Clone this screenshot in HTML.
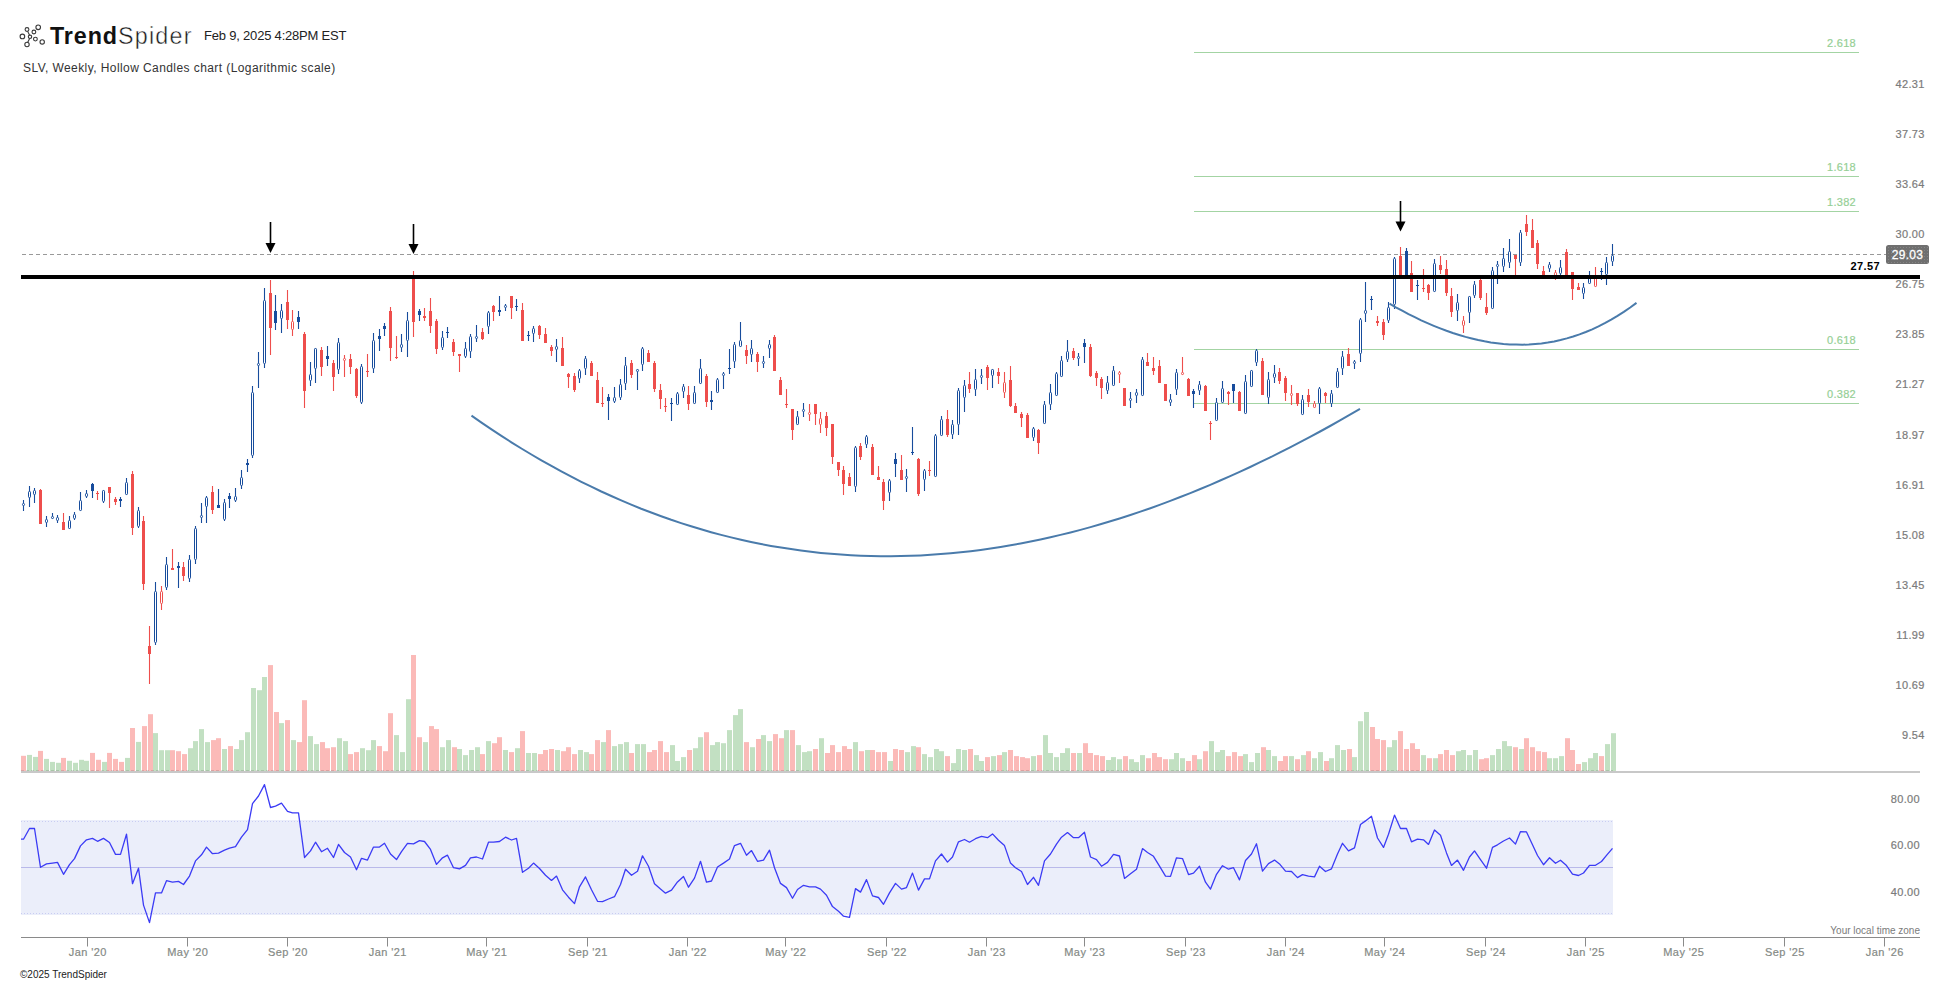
<!DOCTYPE html>
<html><head><meta charset="utf-8">
<style>
html,body{margin:0;padding:0;background:#fff;width:1950px;height:983px;overflow:hidden;}
body{position:relative;font-family:"Liberation Sans",sans-serif;}
svg{position:absolute;left:0;top:0;}
.t{position:absolute;white-space:nowrap;line-height:1;}
</style></head><body>
<svg width="1950" height="983" viewBox="0 0 1950 983" font-family="Liberation Sans">
<defs>
<pattern id="dots" width="3" height="3" patternUnits="userSpaceOnUse"><rect width="3" height="3" fill="#6f6f6f"/><rect x="1" y="1" width="1" height="1" fill="#858585"/></pattern>
</defs>
<!-- logo -->
<g fill="none" stroke="#3a3a3a" stroke-width="1.1">
<line x1="27.6" y1="31.2" x2="29.6" y2="35.2"/>
<line x1="29.6" y1="38.4" x2="27.6" y2="42.5"/>
<circle cx="27" cy="29.5" r="1.9"/>
<circle cx="38.2" cy="27.3" r="2.3"/>
<circle cx="33.9" cy="32" r="1.9"/>
<circle cx="22.4" cy="36.4" r="2.3"/>
<circle cx="30" cy="36.8" r="1.7"/>
<circle cx="35.4" cy="39.1" r="1.9"/>
<circle cx="42.2" cy="41.9" r="2.2"/>
<circle cx="27" cy="44.5" r="2.2"/>
</g>
<!-- volume -->
<rect x="21" y="755.8" width="5" height="15.2" fill="#fbbab8"/>
<rect x="27" y="754.9" width="5" height="16.1" fill="#c2e0c2"/>
<rect x="33" y="756.9" width="5" height="14.1" fill="#c2e0c2"/>
<rect x="38" y="750.9" width="5" height="20.1" fill="#fbbab8"/>
<rect x="44" y="758.9" width="5" height="12.1" fill="#c2e0c2"/>
<rect x="50" y="761.9" width="5" height="9.1" fill="#c2e0c2"/>
<rect x="56" y="762.8" width="5" height="8.2" fill="#c2e0c2"/>
<rect x="61" y="757.9" width="5" height="13.1" fill="#fbbab8"/>
<rect x="67" y="760.8" width="5" height="10.2" fill="#c2e0c2"/>
<rect x="73" y="762.8" width="5" height="8.2" fill="#c2e0c2"/>
<rect x="79" y="759.8" width="5" height="11.2" fill="#c2e0c2"/>
<rect x="84" y="760.8" width="5" height="10.2" fill="#c2e0c2"/>
<rect x="90" y="752.9" width="5" height="18.1" fill="#fbbab8"/>
<rect x="96" y="759.8" width="5" height="11.2" fill="#fbbab8"/>
<rect x="102" y="761.9" width="5" height="9.1" fill="#c2e0c2"/>
<rect x="107" y="752.9" width="5" height="18.1" fill="#fbbab8"/>
<rect x="113" y="758.9" width="5" height="12.1" fill="#fbbab8"/>
<rect x="119" y="761.9" width="5" height="9.1" fill="#fbbab8"/>
<rect x="125" y="757.9" width="5" height="13.1" fill="#c2e0c2"/>
<rect x="130" y="728.0" width="5" height="43.0" fill="#fbbab8"/>
<rect x="136" y="741.9" width="5" height="29.1" fill="#c2e0c2"/>
<rect x="142" y="726.1" width="5" height="44.9" fill="#fbbab8"/>
<rect x="148" y="714.2" width="5" height="56.8" fill="#fbbab8"/>
<rect x="153" y="733.1" width="5" height="37.9" fill="#c2e0c2"/>
<rect x="159" y="750.2" width="5" height="20.8" fill="#c2e0c2"/>
<rect x="165" y="750.2" width="5" height="20.8" fill="#c2e0c2"/>
<rect x="170" y="750.2" width="5" height="20.8" fill="#fbbab8"/>
<rect x="176" y="751.2" width="5" height="19.8" fill="#fbbab8"/>
<rect x="182" y="754.1" width="5" height="16.9" fill="#fbbab8"/>
<rect x="188" y="748.2" width="5" height="22.8" fill="#c2e0c2"/>
<rect x="193" y="741.1" width="5" height="29.9" fill="#c2e0c2"/>
<rect x="199" y="729.1" width="5" height="41.9" fill="#c2e0c2"/>
<rect x="205" y="742.1" width="5" height="28.9" fill="#c2e0c2"/>
<rect x="211" y="740.1" width="5" height="30.9" fill="#fbbab8"/>
<rect x="216" y="738.2" width="5" height="32.8" fill="#fbbab8"/>
<rect x="222" y="749.0" width="5" height="22.0" fill="#c2e0c2"/>
<rect x="228" y="746.1" width="5" height="24.9" fill="#fbbab8"/>
<rect x="234" y="749.0" width="5" height="22.0" fill="#c2e0c2"/>
<rect x="239" y="740.1" width="5" height="30.9" fill="#c2e0c2"/>
<rect x="245" y="732.2" width="5" height="38.8" fill="#c2e0c2"/>
<rect x="251" y="688.0" width="5" height="83.0" fill="#c2e0c2"/>
<rect x="257" y="690.2" width="5" height="80.8" fill="#c2e0c2"/>
<rect x="262" y="677.0" width="5" height="94.0" fill="#c2e0c2"/>
<rect x="268" y="665.1" width="5" height="105.9" fill="#fbbab8"/>
<rect x="274" y="712.0" width="5" height="59.0" fill="#fbbab8"/>
<rect x="279" y="723.1" width="5" height="47.9" fill="#c2e0c2"/>
<rect x="285" y="720.1" width="5" height="50.9" fill="#fbbab8"/>
<rect x="291" y="740.1" width="5" height="30.9" fill="#c2e0c2"/>
<rect x="297" y="742.1" width="5" height="28.9" fill="#fbbab8"/>
<rect x="302" y="700.2" width="5" height="70.8" fill="#fbbab8"/>
<rect x="308" y="736.1" width="5" height="34.9" fill="#c2e0c2"/>
<rect x="314" y="744.1" width="5" height="26.9" fill="#c2e0c2"/>
<rect x="320" y="742.1" width="5" height="28.9" fill="#fbbab8"/>
<rect x="325" y="748.2" width="5" height="22.8" fill="#fbbab8"/>
<rect x="331" y="747.2" width="5" height="23.8" fill="#fbbab8"/>
<rect x="337" y="738.2" width="5" height="32.8" fill="#c2e0c2"/>
<rect x="343" y="741.1" width="5" height="29.9" fill="#c2e0c2"/>
<rect x="348" y="754.1" width="5" height="16.9" fill="#fbbab8"/>
<rect x="354" y="752.1" width="5" height="18.9" fill="#fbbab8"/>
<rect x="360" y="748.2" width="5" height="22.8" fill="#c2e0c2"/>
<rect x="366" y="750.2" width="5" height="20.8" fill="#c2e0c2"/>
<rect x="371" y="740.1" width="5" height="30.9" fill="#c2e0c2"/>
<rect x="377" y="746.1" width="5" height="24.9" fill="#fbbab8"/>
<rect x="383" y="751.2" width="5" height="19.8" fill="#fbbab8"/>
<rect x="388" y="713.2" width="5" height="57.8" fill="#fbbab8"/>
<rect x="394" y="735.1" width="5" height="35.9" fill="#c2e0c2"/>
<rect x="400" y="752.1" width="5" height="18.9" fill="#c2e0c2"/>
<rect x="406" y="699.2" width="5" height="71.8" fill="#c2e0c2"/>
<rect x="411" y="655.0" width="5" height="116.0" fill="#fbbab8"/>
<rect x="417" y="737.2" width="5" height="33.8" fill="#fbbab8"/>
<rect x="423" y="742.1" width="5" height="28.9" fill="#c2e0c2"/>
<rect x="429" y="726.1" width="5" height="44.9" fill="#fbbab8"/>
<rect x="434" y="729.1" width="5" height="41.9" fill="#fbbab8"/>
<rect x="440" y="747.2" width="5" height="23.8" fill="#c2e0c2"/>
<rect x="446" y="740.1" width="5" height="30.9" fill="#c2e0c2"/>
<rect x="452" y="747.2" width="5" height="23.8" fill="#fbbab8"/>
<rect x="457" y="749.0" width="5" height="22.0" fill="#c2e0c2"/>
<rect x="463" y="755.1" width="5" height="15.9" fill="#c2e0c2"/>
<rect x="469" y="750.0" width="5" height="21.0" fill="#c2e0c2"/>
<rect x="475" y="747.2" width="5" height="23.8" fill="#c2e0c2"/>
<rect x="480" y="754.1" width="5" height="16.9" fill="#fbbab8"/>
<rect x="486" y="741.1" width="5" height="29.9" fill="#c2e0c2"/>
<rect x="492" y="743.2" width="5" height="27.8" fill="#fbbab8"/>
<rect x="497" y="737.2" width="5" height="33.8" fill="#fbbab8"/>
<rect x="503" y="750.0" width="5" height="21.0" fill="#c2e0c2"/>
<rect x="509" y="752.1" width="5" height="18.9" fill="#fbbab8"/>
<rect x="515" y="748.2" width="5" height="22.8" fill="#c2e0c2"/>
<rect x="520" y="731.1" width="5" height="39.9" fill="#fbbab8"/>
<rect x="526" y="753.0" width="5" height="18.0" fill="#c2e0c2"/>
<rect x="532" y="753.0" width="5" height="18.0" fill="#c2e0c2"/>
<rect x="538" y="754.1" width="5" height="16.9" fill="#fbbab8"/>
<rect x="543" y="750.0" width="5" height="21.0" fill="#fbbab8"/>
<rect x="549" y="749.0" width="5" height="22.0" fill="#fbbab8"/>
<rect x="555" y="750.0" width="5" height="21.0" fill="#c2e0c2"/>
<rect x="561" y="751.2" width="5" height="19.8" fill="#fbbab8"/>
<rect x="566" y="747.2" width="5" height="23.8" fill="#fbbab8"/>
<rect x="572" y="754.1" width="5" height="16.9" fill="#fbbab8"/>
<rect x="578" y="750.0" width="5" height="21.0" fill="#c2e0c2"/>
<rect x="584" y="752.1" width="5" height="18.9" fill="#c2e0c2"/>
<rect x="589" y="754.1" width="5" height="16.9" fill="#fbbab8"/>
<rect x="595" y="740.1" width="5" height="30.9" fill="#fbbab8"/>
<rect x="601" y="742.1" width="5" height="28.9" fill="#c2e0c2"/>
<rect x="606" y="730.1" width="5" height="40.9" fill="#fbbab8"/>
<rect x="612" y="746.1" width="5" height="24.9" fill="#c2e0c2"/>
<rect x="618" y="744.1" width="5" height="26.9" fill="#c2e0c2"/>
<rect x="624" y="742.1" width="5" height="28.9" fill="#c2e0c2"/>
<rect x="629" y="753.0" width="5" height="18.0" fill="#fbbab8"/>
<rect x="635" y="744.1" width="5" height="26.9" fill="#c2e0c2"/>
<rect x="641" y="744.1" width="5" height="26.9" fill="#c2e0c2"/>
<rect x="647" y="752.1" width="5" height="18.9" fill="#fbbab8"/>
<rect x="652" y="750.0" width="5" height="21.0" fill="#fbbab8"/>
<rect x="658" y="741.1" width="5" height="29.9" fill="#fbbab8"/>
<rect x="664" y="752.1" width="5" height="18.9" fill="#fbbab8"/>
<rect x="670" y="745.1" width="5" height="25.9" fill="#c2e0c2"/>
<rect x="675" y="761.0" width="5" height="10.0" fill="#c2e0c2"/>
<rect x="681" y="757.1" width="5" height="13.9" fill="#c2e0c2"/>
<rect x="687" y="750.0" width="5" height="21.0" fill="#fbbab8"/>
<rect x="693" y="748.2" width="5" height="22.8" fill="#c2e0c2"/>
<rect x="698" y="737.2" width="5" height="33.8" fill="#c2e0c2"/>
<rect x="704" y="732.2" width="5" height="38.8" fill="#fbbab8"/>
<rect x="710" y="745.1" width="5" height="25.9" fill="#c2e0c2"/>
<rect x="715" y="742.1" width="5" height="28.9" fill="#c2e0c2"/>
<rect x="721" y="743.2" width="5" height="27.8" fill="#c2e0c2"/>
<rect x="727" y="730.1" width="5" height="40.9" fill="#c2e0c2"/>
<rect x="733" y="715.1" width="5" height="55.9" fill="#c2e0c2"/>
<rect x="738" y="709.1" width="5" height="61.9" fill="#c2e0c2"/>
<rect x="744" y="742.1" width="5" height="28.9" fill="#fbbab8"/>
<rect x="750" y="747.2" width="5" height="23.8" fill="#c2e0c2"/>
<rect x="756" y="739.0" width="5" height="32.0" fill="#fbbab8"/>
<rect x="761" y="735.1" width="5" height="35.9" fill="#c2e0c2"/>
<rect x="767" y="741.1" width="5" height="29.9" fill="#c2e0c2"/>
<rect x="773" y="734.1" width="5" height="36.9" fill="#fbbab8"/>
<rect x="779" y="738.2" width="5" height="32.8" fill="#fbbab8"/>
<rect x="784" y="730.1" width="5" height="40.9" fill="#c2e0c2"/>
<rect x="790" y="730.1" width="5" height="40.9" fill="#fbbab8"/>
<rect x="796" y="745.1" width="5" height="25.9" fill="#c2e0c2"/>
<rect x="802" y="752.1" width="5" height="18.9" fill="#c2e0c2"/>
<rect x="807" y="751.2" width="5" height="19.8" fill="#c2e0c2"/>
<rect x="813" y="749.0" width="5" height="22.0" fill="#fbbab8"/>
<rect x="819" y="738.2" width="5" height="32.8" fill="#c2e0c2"/>
<rect x="825" y="753.0" width="5" height="18.0" fill="#fbbab8"/>
<rect x="830" y="745.1" width="5" height="25.9" fill="#fbbab8"/>
<rect x="836" y="752.1" width="5" height="18.9" fill="#fbbab8"/>
<rect x="842" y="746.1" width="5" height="24.9" fill="#fbbab8"/>
<rect x="847" y="749.0" width="5" height="22.0" fill="#fbbab8"/>
<rect x="853" y="742.1" width="5" height="28.9" fill="#c2e0c2"/>
<rect x="859" y="751.2" width="5" height="19.8" fill="#fbbab8"/>
<rect x="865" y="750.0" width="5" height="21.0" fill="#c2e0c2"/>
<rect x="870" y="750.0" width="5" height="21.0" fill="#fbbab8"/>
<rect x="876" y="752.1" width="5" height="18.9" fill="#fbbab8"/>
<rect x="882" y="752.1" width="5" height="18.9" fill="#fbbab8"/>
<rect x="888" y="761.0" width="5" height="10.0" fill="#c2e0c2"/>
<rect x="893" y="749.0" width="5" height="22.0" fill="#fbbab8"/>
<rect x="899" y="750.0" width="5" height="21.0" fill="#fbbab8"/>
<rect x="905" y="752.1" width="5" height="18.9" fill="#c2e0c2"/>
<rect x="911" y="746.1" width="5" height="24.9" fill="#c2e0c2"/>
<rect x="916" y="747.2" width="5" height="23.8" fill="#fbbab8"/>
<rect x="922" y="754.1" width="5" height="16.9" fill="#c2e0c2"/>
<rect x="928" y="757.1" width="5" height="13.9" fill="#c2e0c2"/>
<rect x="934" y="749.0" width="5" height="22.0" fill="#c2e0c2"/>
<rect x="939" y="751.2" width="5" height="19.8" fill="#c2e0c2"/>
<rect x="945" y="756.1" width="5" height="14.9" fill="#fbbab8"/>
<rect x="951" y="763.1" width="5" height="7.9" fill="#c2e0c2"/>
<rect x="956" y="749.0" width="5" height="22.0" fill="#c2e0c2"/>
<rect x="962" y="750.0" width="5" height="21.0" fill="#c2e0c2"/>
<rect x="968" y="749.0" width="5" height="22.0" fill="#fbbab8"/>
<rect x="974" y="755.1" width="5" height="15.9" fill="#c2e0c2"/>
<rect x="979" y="761.0" width="5" height="10.0" fill="#c2e0c2"/>
<rect x="985" y="757.1" width="5" height="13.9" fill="#fbbab8"/>
<rect x="991" y="756.1" width="5" height="14.9" fill="#c2e0c2"/>
<rect x="997" y="755.1" width="5" height="15.9" fill="#fbbab8"/>
<rect x="1002" y="752.1" width="5" height="18.9" fill="#c2e0c2"/>
<rect x="1008" y="750.0" width="5" height="21.0" fill="#fbbab8"/>
<rect x="1014" y="756.1" width="5" height="14.9" fill="#fbbab8"/>
<rect x="1020" y="757.1" width="5" height="13.9" fill="#fbbab8"/>
<rect x="1025" y="758.2" width="5" height="12.8" fill="#fbbab8"/>
<rect x="1031" y="756.1" width="5" height="14.9" fill="#c2e0c2"/>
<rect x="1037" y="755.1" width="5" height="15.9" fill="#fbbab8"/>
<rect x="1043" y="735.1" width="5" height="35.9" fill="#c2e0c2"/>
<rect x="1048" y="753.0" width="5" height="18.0" fill="#c2e0c2"/>
<rect x="1054" y="757.1" width="5" height="13.9" fill="#c2e0c2"/>
<rect x="1060" y="753.0" width="5" height="18.0" fill="#c2e0c2"/>
<rect x="1065" y="748.2" width="5" height="22.8" fill="#c2e0c2"/>
<rect x="1071" y="753.0" width="5" height="18.0" fill="#fbbab8"/>
<rect x="1077" y="753.0" width="5" height="18.0" fill="#c2e0c2"/>
<rect x="1083" y="743.2" width="5" height="27.8" fill="#fbbab8"/>
<rect x="1088" y="753.0" width="5" height="18.0" fill="#fbbab8"/>
<rect x="1094" y="755.1" width="5" height="15.9" fill="#fbbab8"/>
<rect x="1100" y="756.1" width="5" height="14.9" fill="#fbbab8"/>
<rect x="1106" y="760.0" width="5" height="11.0" fill="#c2e0c2"/>
<rect x="1111" y="757.1" width="5" height="13.9" fill="#c2e0c2"/>
<rect x="1117" y="759.2" width="5" height="11.8" fill="#c2e0c2"/>
<rect x="1123" y="756.1" width="5" height="14.9" fill="#fbbab8"/>
<rect x="1129" y="759.2" width="5" height="11.8" fill="#c2e0c2"/>
<rect x="1134" y="762.1" width="5" height="8.9" fill="#c2e0c2"/>
<rect x="1140" y="755.1" width="5" height="15.9" fill="#c2e0c2"/>
<rect x="1146" y="758.2" width="5" height="12.8" fill="#fbbab8"/>
<rect x="1152" y="753.0" width="5" height="18.0" fill="#fbbab8"/>
<rect x="1157" y="757.1" width="5" height="13.9" fill="#fbbab8"/>
<rect x="1163" y="759.2" width="5" height="11.8" fill="#fbbab8"/>
<rect x="1169" y="759.2" width="5" height="11.8" fill="#c2e0c2"/>
<rect x="1174" y="753.0" width="5" height="18.0" fill="#c2e0c2"/>
<rect x="1180" y="758.2" width="5" height="12.8" fill="#c2e0c2"/>
<rect x="1186" y="761.0" width="5" height="10.0" fill="#fbbab8"/>
<rect x="1192" y="755.1" width="5" height="15.9" fill="#fbbab8"/>
<rect x="1197" y="759.2" width="5" height="11.8" fill="#c2e0c2"/>
<rect x="1203" y="751.2" width="5" height="19.8" fill="#fbbab8"/>
<rect x="1209" y="741.1" width="5" height="29.9" fill="#c2e0c2"/>
<rect x="1215" y="752.1" width="5" height="18.9" fill="#c2e0c2"/>
<rect x="1220" y="750.0" width="5" height="21.0" fill="#c2e0c2"/>
<rect x="1226" y="756.1" width="5" height="14.9" fill="#fbbab8"/>
<rect x="1232" y="752.1" width="5" height="18.9" fill="#fbbab8"/>
<rect x="1238" y="756.1" width="5" height="14.9" fill="#fbbab8"/>
<rect x="1243" y="754.1" width="5" height="16.9" fill="#c2e0c2"/>
<rect x="1249" y="762.1" width="5" height="8.9" fill="#c2e0c2"/>
<rect x="1255" y="753.0" width="5" height="18.0" fill="#c2e0c2"/>
<rect x="1261" y="747.2" width="5" height="23.8" fill="#fbbab8"/>
<rect x="1266" y="750.0" width="5" height="21.0" fill="#c2e0c2"/>
<rect x="1272" y="756.1" width="5" height="14.9" fill="#c2e0c2"/>
<rect x="1278" y="761.0" width="5" height="10.0" fill="#fbbab8"/>
<rect x="1283" y="756.1" width="5" height="14.9" fill="#fbbab8"/>
<rect x="1289" y="756.1" width="5" height="14.9" fill="#c2e0c2"/>
<rect x="1295" y="759.2" width="5" height="11.8" fill="#fbbab8"/>
<rect x="1301" y="755.1" width="5" height="15.9" fill="#c2e0c2"/>
<rect x="1306" y="751.2" width="5" height="19.8" fill="#fbbab8"/>
<rect x="1312" y="758.2" width="5" height="12.8" fill="#c2e0c2"/>
<rect x="1318" y="752.1" width="5" height="18.9" fill="#c2e0c2"/>
<rect x="1324" y="761.0" width="5" height="10.0" fill="#fbbab8"/>
<rect x="1329" y="758.2" width="5" height="12.8" fill="#c2e0c2"/>
<rect x="1335" y="745.1" width="5" height="25.9" fill="#c2e0c2"/>
<rect x="1341" y="750.0" width="5" height="21.0" fill="#c2e0c2"/>
<rect x="1347" y="749.0" width="5" height="22.0" fill="#fbbab8"/>
<rect x="1352" y="757.1" width="5" height="13.9" fill="#c2e0c2"/>
<rect x="1358" y="721.2" width="5" height="49.8" fill="#c2e0c2"/>
<rect x="1364" y="712.0" width="5" height="59.0" fill="#c2e0c2"/>
<rect x="1370" y="727.0" width="5" height="44.0" fill="#fbbab8"/>
<rect x="1375" y="739.0" width="5" height="32.0" fill="#fbbab8"/>
<rect x="1381" y="740.1" width="5" height="30.9" fill="#fbbab8"/>
<rect x="1387" y="747.2" width="5" height="23.8" fill="#c2e0c2"/>
<rect x="1392" y="740.1" width="5" height="30.9" fill="#c2e0c2"/>
<rect x="1398" y="731.1" width="5" height="39.9" fill="#fbbab8"/>
<rect x="1404" y="749.0" width="5" height="22.0" fill="#fbbab8"/>
<rect x="1410" y="743.2" width="5" height="27.8" fill="#fbbab8"/>
<rect x="1415" y="749.0" width="5" height="22.0" fill="#fbbab8"/>
<rect x="1421" y="755.1" width="5" height="15.9" fill="#c2e0c2"/>
<rect x="1427" y="758.2" width="5" height="12.8" fill="#fbbab8"/>
<rect x="1433" y="758.2" width="5" height="12.8" fill="#c2e0c2"/>
<rect x="1438" y="754.1" width="5" height="16.9" fill="#fbbab8"/>
<rect x="1444" y="750.0" width="5" height="21.0" fill="#fbbab8"/>
<rect x="1450" y="755.1" width="5" height="15.9" fill="#fbbab8"/>
<rect x="1456" y="751.2" width="5" height="19.8" fill="#c2e0c2"/>
<rect x="1461" y="750.0" width="5" height="21.0" fill="#c2e0c2"/>
<rect x="1467" y="755.1" width="5" height="15.9" fill="#c2e0c2"/>
<rect x="1473" y="750.0" width="5" height="21.0" fill="#c2e0c2"/>
<rect x="1479" y="759.2" width="5" height="11.8" fill="#fbbab8"/>
<rect x="1484" y="758.2" width="5" height="12.8" fill="#fbbab8"/>
<rect x="1490" y="755.1" width="5" height="15.9" fill="#c2e0c2"/>
<rect x="1496" y="749.0" width="5" height="22.0" fill="#c2e0c2"/>
<rect x="1502" y="741.1" width="5" height="29.9" fill="#c2e0c2"/>
<rect x="1507" y="746.1" width="5" height="24.9" fill="#c2e0c2"/>
<rect x="1513" y="747.2" width="5" height="23.8" fill="#fbbab8"/>
<rect x="1519" y="749.0" width="5" height="22.0" fill="#c2e0c2"/>
<rect x="1524" y="738.2" width="5" height="32.8" fill="#fbbab8"/>
<rect x="1530" y="747.2" width="5" height="23.8" fill="#fbbab8"/>
<rect x="1536" y="751.2" width="5" height="19.8" fill="#fbbab8"/>
<rect x="1542" y="752.1" width="5" height="18.9" fill="#fbbab8"/>
<rect x="1547" y="758.2" width="5" height="12.8" fill="#c2e0c2"/>
<rect x="1553" y="758.2" width="5" height="12.8" fill="#c2e0c2"/>
<rect x="1559" y="756.1" width="5" height="14.9" fill="#c2e0c2"/>
<rect x="1565" y="738.2" width="5" height="32.8" fill="#fbbab8"/>
<rect x="1570" y="750.0" width="5" height="21.0" fill="#fbbab8"/>
<rect x="1576" y="764.0" width="5" height="7.0" fill="#fbbab8"/>
<rect x="1582" y="762.1" width="5" height="8.9" fill="#c2e0c2"/>
<rect x="1588" y="758.2" width="5" height="12.8" fill="#c2e0c2"/>
<rect x="1593" y="753.0" width="5" height="18.0" fill="#c2e0c2"/>
<rect x="1599" y="756.1" width="5" height="14.9" fill="#fbbab8"/>
<rect x="1605" y="744.1" width="5" height="26.9" fill="#c2e0c2"/>
<rect x="1611" y="733.2" width="5" height="37.8" fill="#c2e0c2"/>
<line x1="21" y1="770.5" x2="1613" y2="770.5" stroke="#000" stroke-width="1" stroke-dasharray="3 2" opacity="0.12"/>
<!-- dashed last price line -->
<line x1="22" y1="254.5" x2="1886" y2="254.5" stroke="#999" stroke-width="1" stroke-dasharray="4 3"/>
<!-- fib lines -->
<g stroke="#a3d4a3" stroke-width="1">
<line x1="1194" y1="52.5" x2="1859" y2="52.5"/>
<line x1="1194" y1="176.5" x2="1859" y2="176.5"/>
<line x1="1194" y1="211.5" x2="1859" y2="211.5"/>
<line x1="1194" y1="349.5" x2="1859" y2="349.5"/>
<line x1="1194" y1="403.5" x2="1859" y2="403.5"/>
</g>
<g fill="#95cf95" stroke="#95cf95" stroke-width="0.2" font-size="11" text-anchor="end" letter-spacing="0.3">
<text x="1856" y="47">2.618</text>
<text x="1856" y="171">1.618</text>
<text x="1856" y="206">1.382</text>
<text x="1856" y="344">0.618</text>
<text x="1856" y="398">0.382</text>
</g>
<line x1="23.5" y1="500" x2="23.5" y2="503.5" stroke="#174c9c" stroke-width="1.1"/>
<line x1="23.5" y1="505.5" x2="23.5" y2="511" stroke="#174c9c" stroke-width="1.1"/>
<rect x="22.5" y="503.5" width="2" height="2" fill="#fff" stroke="#174c9c" stroke-width="1" rx="0.7"/>
<line x1="29.5" y1="486" x2="29.5" y2="491.5" stroke="#174c9c" stroke-width="1.1"/>
<line x1="29.5" y1="497.5" x2="29.5" y2="507" stroke="#174c9c" stroke-width="1.1"/>
<rect x="28.5" y="491.5" width="2" height="6" fill="#fff" stroke="#174c9c" stroke-width="1" rx="0.7"/>
<line x1="34.5" y1="488" x2="34.5" y2="490.5" stroke="#174c9c" stroke-width="1.1"/>
<line x1="34.5" y1="494.5" x2="34.5" y2="503" stroke="#174c9c" stroke-width="1.1"/>
<rect x="33.5" y="490.5" width="2" height="4" fill="#fff" stroke="#174c9c" stroke-width="1" rx="0.7"/>
<line x1="40.5" y1="489" x2="40.5" y2="524" stroke="#ee4e4c" stroke-width="1.1"/>
<rect x="39.0" y="490" width="3" height="34" fill="#ee4e4c"/>
<line x1="46.5" y1="516" x2="46.5" y2="519.5" stroke="#174c9c" stroke-width="1.1"/>
<line x1="46.5" y1="522.5" x2="46.5" y2="527" stroke="#174c9c" stroke-width="1.1"/>
<rect x="45.5" y="519.5" width="2" height="3" fill="#fff" stroke="#174c9c" stroke-width="1" rx="0.7"/>
<line x1="52.5" y1="513" x2="52.5" y2="516.5" stroke="#174c9c" stroke-width="1.1"/>
<line x1="52.5" y1="518.5" x2="52.5" y2="519" stroke="#174c9c" stroke-width="1.1"/>
<rect x="51.5" y="516.5" width="2" height="2" fill="#fff" stroke="#174c9c" stroke-width="1" rx="0.7"/>
<line x1="57.5" y1="515" x2="57.5" y2="517.5" stroke="#174c9c" stroke-width="1.1"/>
<line x1="57.5" y1="520.5" x2="57.5" y2="523" stroke="#174c9c" stroke-width="1.1"/>
<rect x="56.5" y="517.5" width="2" height="3" fill="#fff" stroke="#174c9c" stroke-width="1" rx="0.7"/>
<line x1="63.5" y1="513" x2="63.5" y2="530" stroke="#ee4e4c" stroke-width="1.1"/>
<rect x="62.0" y="522" width="3" height="8" fill="#ee4e4c"/>
<line x1="69.5" y1="516" x2="69.5" y2="520.5" stroke="#174c9c" stroke-width="1.1"/>
<line x1="69.5" y1="528.5" x2="69.5" y2="529" stroke="#174c9c" stroke-width="1.1"/>
<rect x="68.5" y="520.5" width="2" height="8" fill="#fff" stroke="#174c9c" stroke-width="1" rx="0.7"/>
<line x1="74.5" y1="512" x2="74.5" y2="514.5" stroke="#174c9c" stroke-width="1.1"/>
<line x1="74.5" y1="518.5" x2="74.5" y2="520" stroke="#174c9c" stroke-width="1.1"/>
<rect x="73.5" y="514.5" width="2" height="4" fill="#fff" stroke="#174c9c" stroke-width="1" rx="0.7"/>
<line x1="80.5" y1="492" x2="80.5" y2="500.5" stroke="#174c9c" stroke-width="1.1"/>
<line x1="80.5" y1="510.5" x2="80.5" y2="511" stroke="#174c9c" stroke-width="1.1"/>
<rect x="79.5" y="500.5" width="2" height="10" fill="#fff" stroke="#174c9c" stroke-width="1" rx="0.7"/>
<line x1="86.5" y1="490" x2="86.5" y2="493.5" stroke="#174c9c" stroke-width="1.1"/>
<line x1="86.5" y1="496.5" x2="86.5" y2="498" stroke="#174c9c" stroke-width="1.1"/>
<rect x="85.5" y="493.5" width="2" height="3" fill="#fff" stroke="#174c9c" stroke-width="1" rx="0.7"/>
<line x1="92.5" y1="483" x2="92.5" y2="498" stroke="#174c9c" stroke-width="1.1"/>
<rect x="91.0" y="484" width="3" height="7" fill="#174c9c"/>
<line x1="97.5" y1="491" x2="97.5" y2="500" stroke="#ee4e4c" stroke-width="1.1"/>
<rect x="96.0" y="493" width="3" height="1" fill="#ee4e4c"/>
<line x1="103.5" y1="490" x2="103.5" y2="490.5" stroke="#174c9c" stroke-width="1.1"/>
<line x1="103.5" y1="501.5" x2="103.5" y2="503" stroke="#174c9c" stroke-width="1.1"/>
<rect x="102.5" y="490.5" width="2" height="11" fill="#fff" stroke="#174c9c" stroke-width="1" rx="0.7"/>
<line x1="109.5" y1="487" x2="109.5" y2="508" stroke="#ee4e4c" stroke-width="1.1"/>
<rect x="108.0" y="487" width="3" height="6" fill="#ee4e4c"/>
<line x1="115.5" y1="497" x2="115.5" y2="505" stroke="#ee4e4c" stroke-width="1.1"/>
<rect x="114.0" y="499" width="3" height="3" fill="#ee4e4c"/>
<line x1="120.5" y1="497" x2="120.5" y2="507" stroke="#174c9c" stroke-width="1.1"/>
<rect x="119.0" y="499" width="3" height="2" fill="#174c9c"/>
<line x1="126.5" y1="478" x2="126.5" y2="482.5" stroke="#174c9c" stroke-width="1.1"/>
<line x1="126.5" y1="494.5" x2="126.5" y2="495" stroke="#174c9c" stroke-width="1.1"/>
<rect x="125.5" y="482.5" width="2" height="12" fill="#fff" stroke="#174c9c" stroke-width="1" rx="0.7"/>
<line x1="132.5" y1="471" x2="132.5" y2="535" stroke="#ee4e4c" stroke-width="1.1"/>
<rect x="131.0" y="474" width="3" height="54" fill="#ee4e4c"/>
<line x1="138.5" y1="507" x2="138.5" y2="510.5" stroke="#174c9c" stroke-width="1.1"/>
<line x1="138.5" y1="526.5" x2="138.5" y2="528" stroke="#174c9c" stroke-width="1.1"/>
<rect x="137.5" y="510.5" width="2" height="16" fill="#fff" stroke="#174c9c" stroke-width="1" rx="0.7"/>
<line x1="143.5" y1="516" x2="143.5" y2="590" stroke="#ee4e4c" stroke-width="1.1"/>
<rect x="142.0" y="521" width="3" height="63" fill="#ee4e4c"/>
<line x1="149.5" y1="626" x2="149.5" y2="684" stroke="#ee4e4c" stroke-width="1.1"/>
<rect x="148.0" y="646" width="3" height="8" fill="#ee4e4c"/>
<line x1="155.5" y1="582" x2="155.5" y2="591.5" stroke="#174c9c" stroke-width="1.1"/>
<line x1="155.5" y1="642.5" x2="155.5" y2="645" stroke="#174c9c" stroke-width="1.1"/>
<rect x="154.5" y="591.5" width="2" height="51" fill="#fff" stroke="#174c9c" stroke-width="1" rx="0.7"/>
<line x1="161.5" y1="586" x2="161.5" y2="591.5" stroke="#ee4e4c" stroke-width="1.1"/>
<line x1="161.5" y1="603.5" x2="161.5" y2="610" stroke="#ee4e4c" stroke-width="1.1"/>
<rect x="160.5" y="591.5" width="2" height="12" fill="#fff" stroke="#ee4e4c" stroke-width="1" rx="0.7"/>
<line x1="166.5" y1="557" x2="166.5" y2="564.5" stroke="#174c9c" stroke-width="1.1"/>
<line x1="166.5" y1="587.5" x2="166.5" y2="590" stroke="#174c9c" stroke-width="1.1"/>
<rect x="165.5" y="564.5" width="2" height="23" fill="#fff" stroke="#174c9c" stroke-width="1" rx="0.7"/>
<line x1="172.5" y1="549" x2="172.5" y2="570" stroke="#ee4e4c" stroke-width="1.1"/>
<rect x="171.0" y="568" width="3" height="2" fill="#ee4e4c"/>
<line x1="178.5" y1="562" x2="178.5" y2="588" stroke="#174c9c" stroke-width="1.1"/>
<rect x="177.0" y="566" width="3" height="2" fill="#174c9c"/>
<line x1="183.5" y1="562" x2="183.5" y2="581" stroke="#ee4e4c" stroke-width="1.1"/>
<rect x="182.0" y="567" width="3" height="9" fill="#ee4e4c"/>
<line x1="189.5" y1="555" x2="189.5" y2="559.5" stroke="#174c9c" stroke-width="1.1"/>
<line x1="189.5" y1="578.5" x2="189.5" y2="582" stroke="#174c9c" stroke-width="1.1"/>
<rect x="188.5" y="559.5" width="2" height="19" fill="#fff" stroke="#174c9c" stroke-width="1" rx="0.7"/>
<line x1="195.5" y1="526" x2="195.5" y2="528.5" stroke="#174c9c" stroke-width="1.1"/>
<line x1="195.5" y1="559.5" x2="195.5" y2="564" stroke="#174c9c" stroke-width="1.1"/>
<rect x="194.5" y="528.5" width="2" height="31" fill="#fff" stroke="#174c9c" stroke-width="1" rx="0.7"/>
<line x1="201.5" y1="503" x2="201.5" y2="515.5" stroke="#174c9c" stroke-width="1.1"/>
<line x1="201.5" y1="517.5" x2="201.5" y2="523" stroke="#174c9c" stroke-width="1.1"/>
<rect x="200.5" y="515.5" width="2" height="2" fill="#fff" stroke="#174c9c" stroke-width="1" rx="0.7"/>
<line x1="206.5" y1="496" x2="206.5" y2="497.5" stroke="#174c9c" stroke-width="1.1"/>
<line x1="206.5" y1="506.5" x2="206.5" y2="523" stroke="#174c9c" stroke-width="1.1"/>
<rect x="205.5" y="497.5" width="2" height="9" fill="#fff" stroke="#174c9c" stroke-width="1" rx="0.7"/>
<line x1="212.5" y1="486" x2="212.5" y2="514" stroke="#ee4e4c" stroke-width="1.1"/>
<rect x="211.0" y="492" width="3" height="18" fill="#ee4e4c"/>
<line x1="218.5" y1="489" x2="218.5" y2="508" stroke="#174c9c" stroke-width="1.1"/>
<rect x="217.0" y="505" width="3" height="3" fill="#174c9c"/>
<line x1="224.5" y1="499" x2="224.5" y2="502.5" stroke="#174c9c" stroke-width="1.1"/>
<line x1="224.5" y1="519.5" x2="224.5" y2="521" stroke="#174c9c" stroke-width="1.1"/>
<rect x="223.5" y="502.5" width="2" height="17" fill="#fff" stroke="#174c9c" stroke-width="1" rx="0.7"/>
<line x1="229.5" y1="493" x2="229.5" y2="508" stroke="#174c9c" stroke-width="1.1"/>
<rect x="228.0" y="496" width="3" height="3" fill="#174c9c"/>
<line x1="235.5" y1="488" x2="235.5" y2="496.5" stroke="#174c9c" stroke-width="1.1"/>
<line x1="235.5" y1="500.5" x2="235.5" y2="502" stroke="#174c9c" stroke-width="1.1"/>
<rect x="234.5" y="496.5" width="2" height="4" fill="#fff" stroke="#174c9c" stroke-width="1" rx="0.7"/>
<line x1="241.5" y1="470" x2="241.5" y2="477.5" stroke="#174c9c" stroke-width="1.1"/>
<line x1="241.5" y1="485.5" x2="241.5" y2="489" stroke="#174c9c" stroke-width="1.1"/>
<rect x="240.5" y="477.5" width="2" height="8" fill="#fff" stroke="#174c9c" stroke-width="1" rx="0.7"/>
<line x1="247.5" y1="459" x2="247.5" y2="472" stroke="#174c9c" stroke-width="1.1"/>
<rect x="246.0" y="463" width="3" height="2" fill="#174c9c"/>
<line x1="252.5" y1="386" x2="252.5" y2="392.5" stroke="#174c9c" stroke-width="1.1"/>
<line x1="252.5" y1="455.5" x2="252.5" y2="458" stroke="#174c9c" stroke-width="1.1"/>
<rect x="251.5" y="392.5" width="2" height="63" fill="#fff" stroke="#174c9c" stroke-width="1" rx="0.7"/>
<line x1="258.5" y1="352" x2="258.5" y2="363.5" stroke="#174c9c" stroke-width="1.1"/>
<line x1="258.5" y1="365.5" x2="258.5" y2="388" stroke="#174c9c" stroke-width="1.1"/>
<rect x="257.5" y="363.5" width="2" height="2" fill="#fff" stroke="#174c9c" stroke-width="1" rx="0.7"/>
<line x1="264.5" y1="288" x2="264.5" y2="300.5" stroke="#174c9c" stroke-width="1.1"/>
<line x1="264.5" y1="363.5" x2="264.5" y2="368" stroke="#174c9c" stroke-width="1.1"/>
<rect x="263.5" y="300.5" width="2" height="63" fill="#fff" stroke="#174c9c" stroke-width="1" rx="0.7"/>
<line x1="270.5" y1="280" x2="270.5" y2="355" stroke="#ee4e4c" stroke-width="1.1"/>
<rect x="269.0" y="293" width="3" height="35" fill="#ee4e4c"/>
<line x1="275.5" y1="295" x2="275.5" y2="330" stroke="#174c9c" stroke-width="1.1"/>
<rect x="274.0" y="311" width="3" height="12" fill="#174c9c"/>
<line x1="281.5" y1="304" x2="281.5" y2="310.5" stroke="#174c9c" stroke-width="1.1"/>
<line x1="281.5" y1="318.5" x2="281.5" y2="333" stroke="#174c9c" stroke-width="1.1"/>
<rect x="280.5" y="310.5" width="2" height="8" fill="#fff" stroke="#174c9c" stroke-width="1" rx="0.7"/>
<line x1="287.5" y1="290" x2="287.5" y2="329" stroke="#ee4e4c" stroke-width="1.1"/>
<rect x="286.0" y="302" width="3" height="18" fill="#ee4e4c"/>
<line x1="292.5" y1="310" x2="292.5" y2="321.5" stroke="#ee4e4c" stroke-width="1.1"/>
<line x1="292.5" y1="329.5" x2="292.5" y2="336" stroke="#ee4e4c" stroke-width="1.1"/>
<rect x="291.5" y="321.5" width="2" height="8" fill="#fff" stroke="#ee4e4c" stroke-width="1" rx="0.7"/>
<line x1="298.5" y1="311" x2="298.5" y2="329" stroke="#174c9c" stroke-width="1.1"/>
<rect x="297.0" y="317" width="3" height="5" fill="#174c9c"/>
<line x1="304.5" y1="332" x2="304.5" y2="408" stroke="#ee4e4c" stroke-width="1.1"/>
<rect x="303.0" y="334" width="3" height="57" fill="#ee4e4c"/>
<line x1="310.5" y1="362" x2="310.5" y2="374.5" stroke="#174c9c" stroke-width="1.1"/>
<line x1="310.5" y1="380.5" x2="310.5" y2="386" stroke="#174c9c" stroke-width="1.1"/>
<rect x="309.5" y="374.5" width="2" height="6" fill="#fff" stroke="#174c9c" stroke-width="1" rx="0.7"/>
<line x1="315.5" y1="348" x2="315.5" y2="348.5" stroke="#174c9c" stroke-width="1.1"/>
<line x1="315.5" y1="368.5" x2="315.5" y2="383" stroke="#174c9c" stroke-width="1.1"/>
<rect x="314.5" y="348.5" width="2" height="20" fill="#fff" stroke="#174c9c" stroke-width="1" rx="0.7"/>
<line x1="321.5" y1="347" x2="321.5" y2="376" stroke="#ee4e4c" stroke-width="1.1"/>
<rect x="320.0" y="350" width="3" height="17" fill="#ee4e4c"/>
<line x1="327.5" y1="346" x2="327.5" y2="366" stroke="#174c9c" stroke-width="1.1"/>
<rect x="326.0" y="356" width="3" height="3" fill="#174c9c"/>
<line x1="333.5" y1="360" x2="333.5" y2="391" stroke="#ee4e4c" stroke-width="1.1"/>
<rect x="332.0" y="363" width="3" height="14" fill="#ee4e4c"/>
<line x1="338.5" y1="338" x2="338.5" y2="342.5" stroke="#174c9c" stroke-width="1.1"/>
<line x1="338.5" y1="369.5" x2="338.5" y2="374" stroke="#174c9c" stroke-width="1.1"/>
<rect x="337.5" y="342.5" width="2" height="27" fill="#fff" stroke="#174c9c" stroke-width="1" rx="0.7"/>
<line x1="344.5" y1="355" x2="344.5" y2="358.5" stroke="#ee4e4c" stroke-width="1.1"/>
<line x1="344.5" y1="360.5" x2="344.5" y2="377" stroke="#ee4e4c" stroke-width="1.1"/>
<rect x="343.5" y="358.5" width="2" height="2" fill="#fff" stroke="#ee4e4c" stroke-width="1" rx="0.7"/>
<line x1="350.5" y1="354" x2="350.5" y2="374" stroke="#ee4e4c" stroke-width="1.1"/>
<rect x="349.0" y="359" width="3" height="8" fill="#ee4e4c"/>
<line x1="356.5" y1="368" x2="356.5" y2="398" stroke="#ee4e4c" stroke-width="1.1"/>
<rect x="355.0" y="369" width="3" height="27" fill="#ee4e4c"/>
<line x1="361.5" y1="364" x2="361.5" y2="366.5" stroke="#174c9c" stroke-width="1.1"/>
<line x1="361.5" y1="402.5" x2="361.5" y2="404" stroke="#174c9c" stroke-width="1.1"/>
<rect x="360.5" y="366.5" width="2" height="36" fill="#fff" stroke="#174c9c" stroke-width="1" rx="0.7"/>
<line x1="367.5" y1="354" x2="367.5" y2="377" stroke="#ee4e4c" stroke-width="1.1"/>
<rect x="366.0" y="371" width="3" height="1" fill="#ee4e4c"/>
<line x1="373.5" y1="333" x2="373.5" y2="340.5" stroke="#174c9c" stroke-width="1.1"/>
<line x1="373.5" y1="368.5" x2="373.5" y2="373" stroke="#174c9c" stroke-width="1.1"/>
<rect x="372.5" y="340.5" width="2" height="28" fill="#fff" stroke="#174c9c" stroke-width="1" rx="0.7"/>
<line x1="379.5" y1="329" x2="379.5" y2="351" stroke="#174c9c" stroke-width="1.1"/>
<rect x="378.0" y="336" width="3" height="3" fill="#174c9c"/>
<line x1="384.5" y1="323" x2="384.5" y2="336" stroke="#174c9c" stroke-width="1.1"/>
<rect x="383.0" y="326" width="3" height="3" fill="#174c9c"/>
<line x1="390.5" y1="307" x2="390.5" y2="361" stroke="#ee4e4c" stroke-width="1.1"/>
<rect x="389.0" y="311" width="3" height="37" fill="#ee4e4c"/>
<line x1="396.5" y1="336" x2="396.5" y2="359" stroke="#ee4e4c" stroke-width="1.1"/>
<rect x="395.0" y="357" width="3" height="1" fill="#ee4e4c"/>
<line x1="401.5" y1="334" x2="401.5" y2="344.5" stroke="#174c9c" stroke-width="1.1"/>
<line x1="401.5" y1="347.5" x2="401.5" y2="352" stroke="#174c9c" stroke-width="1.1"/>
<rect x="400.5" y="344.5" width="2" height="3" fill="#fff" stroke="#174c9c" stroke-width="1" rx="0.7"/>
<line x1="407.5" y1="312" x2="407.5" y2="320.5" stroke="#174c9c" stroke-width="1.1"/>
<line x1="407.5" y1="340.5" x2="407.5" y2="357" stroke="#174c9c" stroke-width="1.1"/>
<rect x="406.5" y="320.5" width="2" height="20" fill="#fff" stroke="#174c9c" stroke-width="1" rx="0.7"/>
<line x1="413.5" y1="271" x2="413.5" y2="337" stroke="#ee4e4c" stroke-width="1.1"/>
<rect x="412.0" y="275" width="3" height="47" fill="#ee4e4c"/>
<line x1="419.5" y1="309" x2="419.5" y2="321" stroke="#174c9c" stroke-width="1.1"/>
<rect x="418.0" y="311" width="3" height="4" fill="#174c9c"/>
<line x1="424.5" y1="308" x2="424.5" y2="321" stroke="#ee4e4c" stroke-width="1.1"/>
<rect x="423.0" y="316" width="3" height="2" fill="#ee4e4c"/>
<line x1="430.5" y1="298" x2="430.5" y2="333" stroke="#ee4e4c" stroke-width="1.1"/>
<rect x="429.0" y="311" width="3" height="15" fill="#ee4e4c"/>
<line x1="436.5" y1="319" x2="436.5" y2="354" stroke="#ee4e4c" stroke-width="1.1"/>
<rect x="435.0" y="321" width="3" height="28" fill="#ee4e4c"/>
<line x1="442.5" y1="331" x2="442.5" y2="337.5" stroke="#174c9c" stroke-width="1.1"/>
<line x1="442.5" y1="347.5" x2="442.5" y2="350" stroke="#174c9c" stroke-width="1.1"/>
<rect x="441.5" y="337.5" width="2" height="10" fill="#fff" stroke="#174c9c" stroke-width="1" rx="0.7"/>
<line x1="447.5" y1="327" x2="447.5" y2="338" stroke="#174c9c" stroke-width="1.1"/>
<rect x="446.0" y="332" width="3" height="1" fill="#174c9c"/>
<line x1="453.5" y1="339" x2="453.5" y2="356" stroke="#ee4e4c" stroke-width="1.1"/>
<rect x="452.0" y="342" width="3" height="10" fill="#ee4e4c"/>
<line x1="459.5" y1="354" x2="459.5" y2="372" stroke="#ee4e4c" stroke-width="1.1"/>
<rect x="458.0" y="354" width="3" height="2" fill="#ee4e4c"/>
<line x1="465.5" y1="342" x2="465.5" y2="348.5" stroke="#174c9c" stroke-width="1.1"/>
<line x1="465.5" y1="356.5" x2="465.5" y2="358" stroke="#174c9c" stroke-width="1.1"/>
<rect x="464.5" y="348.5" width="2" height="8" fill="#fff" stroke="#174c9c" stroke-width="1" rx="0.7"/>
<line x1="470.5" y1="334" x2="470.5" y2="336.5" stroke="#174c9c" stroke-width="1.1"/>
<line x1="470.5" y1="351.5" x2="470.5" y2="358" stroke="#174c9c" stroke-width="1.1"/>
<rect x="469.5" y="336.5" width="2" height="15" fill="#fff" stroke="#174c9c" stroke-width="1" rx="0.7"/>
<line x1="476.5" y1="325" x2="476.5" y2="336.5" stroke="#174c9c" stroke-width="1.1"/>
<line x1="476.5" y1="338.5" x2="476.5" y2="342" stroke="#174c9c" stroke-width="1.1"/>
<rect x="475.5" y="336.5" width="2" height="2" fill="#fff" stroke="#174c9c" stroke-width="1" rx="0.7"/>
<line x1="482.5" y1="328" x2="482.5" y2="340" stroke="#ee4e4c" stroke-width="1.1"/>
<rect x="481.0" y="332" width="3" height="7" fill="#ee4e4c"/>
<line x1="488.5" y1="311" x2="488.5" y2="312.5" stroke="#174c9c" stroke-width="1.1"/>
<line x1="488.5" y1="326.5" x2="488.5" y2="334" stroke="#174c9c" stroke-width="1.1"/>
<rect x="487.5" y="312.5" width="2" height="14" fill="#fff" stroke="#174c9c" stroke-width="1" rx="0.7"/>
<line x1="493.5" y1="305" x2="493.5" y2="321" stroke="#ee4e4c" stroke-width="1.1"/>
<rect x="492.0" y="306" width="3" height="6" fill="#ee4e4c"/>
<line x1="499.5" y1="296" x2="499.5" y2="316" stroke="#174c9c" stroke-width="1.1"/>
<rect x="498.0" y="310" width="3" height="2" fill="#174c9c"/>
<line x1="505.5" y1="304" x2="505.5" y2="305.5" stroke="#174c9c" stroke-width="1.1"/>
<line x1="505.5" y1="307.5" x2="505.5" y2="311" stroke="#174c9c" stroke-width="1.1"/>
<rect x="504.5" y="305.5" width="2" height="2" fill="#fff" stroke="#174c9c" stroke-width="1" rx="0.7"/>
<line x1="511.5" y1="296" x2="511.5" y2="319" stroke="#ee4e4c" stroke-width="1.1"/>
<rect x="510.0" y="296" width="3" height="12" fill="#ee4e4c"/>
<line x1="516.5" y1="299" x2="516.5" y2="311" stroke="#174c9c" stroke-width="1.1"/>
<rect x="515.0" y="306" width="3" height="1" fill="#174c9c"/>
<line x1="522.5" y1="303" x2="522.5" y2="341" stroke="#ee4e4c" stroke-width="1.1"/>
<rect x="521.0" y="310" width="3" height="31" fill="#ee4e4c"/>
<line x1="528.5" y1="331" x2="528.5" y2="341" stroke="#174c9c" stroke-width="1.1"/>
<rect x="527.0" y="335" width="3" height="1" fill="#174c9c"/>
<line x1="533.5" y1="326" x2="533.5" y2="328.5" stroke="#174c9c" stroke-width="1.1"/>
<line x1="533.5" y1="333.5" x2="533.5" y2="342" stroke="#174c9c" stroke-width="1.1"/>
<rect x="532.5" y="328.5" width="2" height="5" fill="#fff" stroke="#174c9c" stroke-width="1" rx="0.7"/>
<line x1="539.5" y1="325" x2="539.5" y2="339" stroke="#ee4e4c" stroke-width="1.1"/>
<rect x="538.0" y="326" width="3" height="9" fill="#ee4e4c"/>
<line x1="545.5" y1="328" x2="545.5" y2="343" stroke="#ee4e4c" stroke-width="1.1"/>
<rect x="544.0" y="334" width="3" height="9" fill="#ee4e4c"/>
<line x1="551.5" y1="345" x2="551.5" y2="356" stroke="#ee4e4c" stroke-width="1.1"/>
<rect x="550.0" y="347" width="3" height="4" fill="#ee4e4c"/>
<line x1="556.5" y1="339" x2="556.5" y2="346.5" stroke="#174c9c" stroke-width="1.1"/>
<line x1="556.5" y1="349.5" x2="556.5" y2="362" stroke="#174c9c" stroke-width="1.1"/>
<rect x="555.5" y="346.5" width="2" height="3" fill="#fff" stroke="#174c9c" stroke-width="1" rx="0.7"/>
<line x1="562.5" y1="337" x2="562.5" y2="366" stroke="#ee4e4c" stroke-width="1.1"/>
<rect x="561.0" y="348" width="3" height="18" fill="#ee4e4c"/>
<line x1="568.5" y1="373" x2="568.5" y2="388" stroke="#ee4e4c" stroke-width="1.1"/>
<rect x="567.0" y="374" width="3" height="3" fill="#ee4e4c"/>
<line x1="574.5" y1="373" x2="574.5" y2="392" stroke="#ee4e4c" stroke-width="1.1"/>
<rect x="573.0" y="376" width="3" height="14" fill="#ee4e4c"/>
<line x1="579.5" y1="369" x2="579.5" y2="370.5" stroke="#174c9c" stroke-width="1.1"/>
<line x1="579.5" y1="378.5" x2="579.5" y2="383" stroke="#174c9c" stroke-width="1.1"/>
<rect x="578.5" y="370.5" width="2" height="8" fill="#fff" stroke="#174c9c" stroke-width="1" rx="0.7"/>
<line x1="585.5" y1="356" x2="585.5" y2="358.5" stroke="#174c9c" stroke-width="1.1"/>
<line x1="585.5" y1="368.5" x2="585.5" y2="375" stroke="#174c9c" stroke-width="1.1"/>
<rect x="584.5" y="358.5" width="2" height="10" fill="#fff" stroke="#174c9c" stroke-width="1" rx="0.7"/>
<line x1="591.5" y1="361" x2="591.5" y2="376" stroke="#ee4e4c" stroke-width="1.1"/>
<rect x="590.0" y="363" width="3" height="13" fill="#ee4e4c"/>
<line x1="597.5" y1="372" x2="597.5" y2="403" stroke="#ee4e4c" stroke-width="1.1"/>
<rect x="596.0" y="380" width="3" height="23" fill="#ee4e4c"/>
<line x1="602.5" y1="387" x2="602.5" y2="407" stroke="#ee4e4c" stroke-width="1.1"/>
<rect x="601.0" y="403" width="3" height="1" fill="#ee4e4c"/>
<line x1="608.5" y1="394" x2="608.5" y2="420" stroke="#174c9c" stroke-width="1.1"/>
<rect x="607.0" y="397" width="3" height="4" fill="#174c9c"/>
<line x1="614.5" y1="387" x2="614.5" y2="397.5" stroke="#174c9c" stroke-width="1.1"/>
<line x1="614.5" y1="401.5" x2="614.5" y2="403" stroke="#174c9c" stroke-width="1.1"/>
<rect x="613.5" y="397.5" width="2" height="4" fill="#fff" stroke="#174c9c" stroke-width="1" rx="0.7"/>
<line x1="620.5" y1="379" x2="620.5" y2="384.5" stroke="#174c9c" stroke-width="1.1"/>
<line x1="620.5" y1="397.5" x2="620.5" y2="400" stroke="#174c9c" stroke-width="1.1"/>
<rect x="619.5" y="384.5" width="2" height="13" fill="#fff" stroke="#174c9c" stroke-width="1" rx="0.7"/>
<line x1="625.5" y1="357" x2="625.5" y2="365.5" stroke="#174c9c" stroke-width="1.1"/>
<line x1="625.5" y1="383.5" x2="625.5" y2="390" stroke="#174c9c" stroke-width="1.1"/>
<rect x="624.5" y="365.5" width="2" height="18" fill="#fff" stroke="#174c9c" stroke-width="1" rx="0.7"/>
<line x1="631.5" y1="360" x2="631.5" y2="378" stroke="#ee4e4c" stroke-width="1.1"/>
<rect x="630.0" y="363" width="3" height="12" fill="#ee4e4c"/>
<line x1="637.5" y1="370" x2="637.5" y2="369.5" stroke="#174c9c" stroke-width="1.1"/>
<line x1="637.5" y1="371.5" x2="637.5" y2="390" stroke="#174c9c" stroke-width="1.1"/>
<rect x="636.5" y="369.5" width="2" height="2" fill="#fff" stroke="#174c9c" stroke-width="1" rx="0.7"/>
<line x1="642.5" y1="347" x2="642.5" y2="348.5" stroke="#174c9c" stroke-width="1.1"/>
<line x1="642.5" y1="364.5" x2="642.5" y2="371" stroke="#174c9c" stroke-width="1.1"/>
<rect x="641.5" y="348.5" width="2" height="16" fill="#fff" stroke="#174c9c" stroke-width="1" rx="0.7"/>
<line x1="648.5" y1="350" x2="648.5" y2="362" stroke="#ee4e4c" stroke-width="1.1"/>
<rect x="647.0" y="353" width="3" height="9" fill="#ee4e4c"/>
<line x1="654.5" y1="361" x2="654.5" y2="392" stroke="#ee4e4c" stroke-width="1.1"/>
<rect x="653.0" y="363" width="3" height="26" fill="#ee4e4c"/>
<line x1="660.5" y1="384" x2="660.5" y2="409" stroke="#ee4e4c" stroke-width="1.1"/>
<rect x="659.0" y="390" width="3" height="9" fill="#ee4e4c"/>
<line x1="665.5" y1="398" x2="665.5" y2="412" stroke="#ee4e4c" stroke-width="1.1"/>
<rect x="664.0" y="406" width="3" height="1" fill="#ee4e4c"/>
<line x1="671.5" y1="398" x2="671.5" y2="421" stroke="#174c9c" stroke-width="1.1"/>
<rect x="670.0" y="403" width="3" height="1" fill="#174c9c"/>
<line x1="677.5" y1="392" x2="677.5" y2="393.5" stroke="#174c9c" stroke-width="1.1"/>
<line x1="677.5" y1="404.5" x2="677.5" y2="405" stroke="#174c9c" stroke-width="1.1"/>
<rect x="676.5" y="393.5" width="2" height="11" fill="#fff" stroke="#174c9c" stroke-width="1" rx="0.7"/>
<line x1="683.5" y1="384" x2="683.5" y2="386.5" stroke="#174c9c" stroke-width="1.1"/>
<line x1="683.5" y1="391.5" x2="683.5" y2="398" stroke="#174c9c" stroke-width="1.1"/>
<rect x="682.5" y="386.5" width="2" height="5" fill="#fff" stroke="#174c9c" stroke-width="1" rx="0.7"/>
<line x1="688.5" y1="386" x2="688.5" y2="410" stroke="#ee4e4c" stroke-width="1.1"/>
<rect x="687.0" y="395" width="3" height="9" fill="#ee4e4c"/>
<line x1="694.5" y1="386" x2="694.5" y2="392.5" stroke="#174c9c" stroke-width="1.1"/>
<line x1="694.5" y1="403.5" x2="694.5" y2="404" stroke="#174c9c" stroke-width="1.1"/>
<rect x="693.5" y="392.5" width="2" height="11" fill="#fff" stroke="#174c9c" stroke-width="1" rx="0.7"/>
<line x1="700.5" y1="359" x2="700.5" y2="368.5" stroke="#174c9c" stroke-width="1.1"/>
<line x1="700.5" y1="383.5" x2="700.5" y2="384" stroke="#174c9c" stroke-width="1.1"/>
<rect x="699.5" y="368.5" width="2" height="15" fill="#fff" stroke="#174c9c" stroke-width="1" rx="0.7"/>
<line x1="706.5" y1="374" x2="706.5" y2="407" stroke="#ee4e4c" stroke-width="1.1"/>
<rect x="705.0" y="376" width="3" height="26" fill="#ee4e4c"/>
<line x1="711.5" y1="391" x2="711.5" y2="410" stroke="#174c9c" stroke-width="1.1"/>
<rect x="710.0" y="400" width="3" height="2" fill="#174c9c"/>
<line x1="717.5" y1="378" x2="717.5" y2="379.5" stroke="#174c9c" stroke-width="1.1"/>
<line x1="717.5" y1="392.5" x2="717.5" y2="393" stroke="#174c9c" stroke-width="1.1"/>
<rect x="716.5" y="379.5" width="2" height="13" fill="#fff" stroke="#174c9c" stroke-width="1" rx="0.7"/>
<line x1="723.5" y1="372" x2="723.5" y2="373.5" stroke="#174c9c" stroke-width="1.1"/>
<line x1="723.5" y1="375.5" x2="723.5" y2="389" stroke="#174c9c" stroke-width="1.1"/>
<rect x="722.5" y="373.5" width="2" height="2" fill="#fff" stroke="#174c9c" stroke-width="1" rx="0.7"/>
<line x1="729.5" y1="349" x2="729.5" y2="374" stroke="#174c9c" stroke-width="1.1"/>
<rect x="728.0" y="368" width="3" height="1" fill="#174c9c"/>
<line x1="734.5" y1="342" x2="734.5" y2="344.5" stroke="#174c9c" stroke-width="1.1"/>
<line x1="734.5" y1="361.5" x2="734.5" y2="368" stroke="#174c9c" stroke-width="1.1"/>
<rect x="733.5" y="344.5" width="2" height="17" fill="#fff" stroke="#174c9c" stroke-width="1" rx="0.7"/>
<line x1="740.5" y1="322" x2="740.5" y2="340.5" stroke="#174c9c" stroke-width="1.1"/>
<line x1="740.5" y1="346.5" x2="740.5" y2="347" stroke="#174c9c" stroke-width="1.1"/>
<rect x="739.5" y="340.5" width="2" height="6" fill="#fff" stroke="#174c9c" stroke-width="1" rx="0.7"/>
<line x1="746.5" y1="345" x2="746.5" y2="364" stroke="#ee4e4c" stroke-width="1.1"/>
<rect x="745.0" y="350" width="3" height="6" fill="#ee4e4c"/>
<line x1="751.5" y1="340" x2="751.5" y2="348.5" stroke="#174c9c" stroke-width="1.1"/>
<line x1="751.5" y1="354.5" x2="751.5" y2="362" stroke="#174c9c" stroke-width="1.1"/>
<rect x="750.5" y="348.5" width="2" height="6" fill="#fff" stroke="#174c9c" stroke-width="1" rx="0.7"/>
<line x1="757.5" y1="352" x2="757.5" y2="372" stroke="#ee4e4c" stroke-width="1.1"/>
<rect x="756.0" y="354" width="3" height="8" fill="#ee4e4c"/>
<line x1="763.5" y1="356" x2="763.5" y2="361.5" stroke="#174c9c" stroke-width="1.1"/>
<line x1="763.5" y1="363.5" x2="763.5" y2="368" stroke="#174c9c" stroke-width="1.1"/>
<rect x="762.5" y="361.5" width="2" height="2" fill="#fff" stroke="#174c9c" stroke-width="1" rx="0.7"/>
<line x1="769.5" y1="340" x2="769.5" y2="344.5" stroke="#174c9c" stroke-width="1.1"/>
<line x1="769.5" y1="348.5" x2="769.5" y2="358" stroke="#174c9c" stroke-width="1.1"/>
<rect x="768.5" y="344.5" width="2" height="4" fill="#fff" stroke="#174c9c" stroke-width="1" rx="0.7"/>
<line x1="774.5" y1="335" x2="774.5" y2="371" stroke="#ee4e4c" stroke-width="1.1"/>
<rect x="773.0" y="337" width="3" height="34" fill="#ee4e4c"/>
<line x1="780.5" y1="377" x2="780.5" y2="395" stroke="#ee4e4c" stroke-width="1.1"/>
<rect x="779.0" y="380" width="3" height="15" fill="#ee4e4c"/>
<line x1="786.5" y1="389" x2="786.5" y2="408" stroke="#ee4e4c" stroke-width="1.1"/>
<rect x="785.0" y="404" width="3" height="1" fill="#ee4e4c"/>
<line x1="792.5" y1="409" x2="792.5" y2="440" stroke="#ee4e4c" stroke-width="1.1"/>
<rect x="791.0" y="409" width="3" height="21" fill="#ee4e4c"/>
<line x1="797.5" y1="411" x2="797.5" y2="416.5" stroke="#174c9c" stroke-width="1.1"/>
<line x1="797.5" y1="424.5" x2="797.5" y2="425" stroke="#174c9c" stroke-width="1.1"/>
<rect x="796.5" y="416.5" width="2" height="8" fill="#fff" stroke="#174c9c" stroke-width="1" rx="0.7"/>
<line x1="803.5" y1="403" x2="803.5" y2="409.5" stroke="#174c9c" stroke-width="1.1"/>
<line x1="803.5" y1="411.5" x2="803.5" y2="417" stroke="#174c9c" stroke-width="1.1"/>
<rect x="802.5" y="409.5" width="2" height="2" fill="#fff" stroke="#174c9c" stroke-width="1" rx="0.7"/>
<line x1="809.5" y1="404" x2="809.5" y2="412.5" stroke="#ee4e4c" stroke-width="1.1"/>
<line x1="809.5" y1="414.5" x2="809.5" y2="421" stroke="#ee4e4c" stroke-width="1.1"/>
<rect x="808.5" y="412.5" width="2" height="2" fill="#fff" stroke="#ee4e4c" stroke-width="1" rx="0.7"/>
<line x1="815.5" y1="404" x2="815.5" y2="425" stroke="#ee4e4c" stroke-width="1.1"/>
<rect x="814.0" y="404" width="3" height="10" fill="#ee4e4c"/>
<line x1="820.5" y1="412" x2="820.5" y2="418.5" stroke="#ee4e4c" stroke-width="1.1"/>
<line x1="820.5" y1="424.5" x2="820.5" y2="433" stroke="#ee4e4c" stroke-width="1.1"/>
<rect x="819.5" y="418.5" width="2" height="6" fill="#fff" stroke="#ee4e4c" stroke-width="1" rx="0.7"/>
<line x1="826.5" y1="412" x2="826.5" y2="436" stroke="#ee4e4c" stroke-width="1.1"/>
<rect x="825.0" y="416" width="3" height="12" fill="#ee4e4c"/>
<line x1="832.5" y1="424" x2="832.5" y2="464" stroke="#ee4e4c" stroke-width="1.1"/>
<rect x="831.0" y="424" width="3" height="33" fill="#ee4e4c"/>
<line x1="838.5" y1="462" x2="838.5" y2="476" stroke="#ee4e4c" stroke-width="1.1"/>
<rect x="837.0" y="462" width="3" height="8" fill="#ee4e4c"/>
<line x1="843.5" y1="466" x2="843.5" y2="495" stroke="#ee4e4c" stroke-width="1.1"/>
<rect x="842.0" y="470" width="3" height="14" fill="#ee4e4c"/>
<line x1="849.5" y1="473" x2="849.5" y2="486" stroke="#ee4e4c" stroke-width="1.1"/>
<rect x="848.0" y="477" width="3" height="9" fill="#ee4e4c"/>
<line x1="855.5" y1="446" x2="855.5" y2="447.5" stroke="#174c9c" stroke-width="1.1"/>
<line x1="855.5" y1="486.5" x2="855.5" y2="492" stroke="#174c9c" stroke-width="1.1"/>
<rect x="854.5" y="447.5" width="2" height="39" fill="#fff" stroke="#174c9c" stroke-width="1" rx="0.7"/>
<line x1="860.5" y1="443" x2="860.5" y2="460" stroke="#ee4e4c" stroke-width="1.1"/>
<rect x="859.0" y="446" width="3" height="11" fill="#ee4e4c"/>
<line x1="866.5" y1="435" x2="866.5" y2="436.5" stroke="#174c9c" stroke-width="1.1"/>
<line x1="866.5" y1="444.5" x2="866.5" y2="448" stroke="#174c9c" stroke-width="1.1"/>
<rect x="865.5" y="436.5" width="2" height="8" fill="#fff" stroke="#174c9c" stroke-width="1" rx="0.7"/>
<line x1="872.5" y1="444" x2="872.5" y2="475" stroke="#ee4e4c" stroke-width="1.1"/>
<rect x="871.0" y="447" width="3" height="28" fill="#ee4e4c"/>
<line x1="878.5" y1="466" x2="878.5" y2="480" stroke="#ee4e4c" stroke-width="1.1"/>
<rect x="877.0" y="477" width="3" height="3" fill="#ee4e4c"/>
<line x1="883.5" y1="479" x2="883.5" y2="510" stroke="#ee4e4c" stroke-width="1.1"/>
<rect x="882.0" y="482" width="3" height="19" fill="#ee4e4c"/>
<line x1="889.5" y1="479" x2="889.5" y2="480.5" stroke="#174c9c" stroke-width="1.1"/>
<line x1="889.5" y1="492.5" x2="889.5" y2="501" stroke="#174c9c" stroke-width="1.1"/>
<rect x="888.5" y="480.5" width="2" height="12" fill="#fff" stroke="#174c9c" stroke-width="1" rx="0.7"/>
<line x1="895.5" y1="453" x2="895.5" y2="477" stroke="#174c9c" stroke-width="1.1"/>
<rect x="894.0" y="459" width="3" height="5" fill="#174c9c"/>
<line x1="901.5" y1="455" x2="901.5" y2="480" stroke="#ee4e4c" stroke-width="1.1"/>
<rect x="900.0" y="470" width="3" height="10" fill="#ee4e4c"/>
<line x1="906.5" y1="469" x2="906.5" y2="476.5" stroke="#174c9c" stroke-width="1.1"/>
<line x1="906.5" y1="478.5" x2="906.5" y2="492" stroke="#174c9c" stroke-width="1.1"/>
<rect x="905.5" y="476.5" width="2" height="2" fill="#fff" stroke="#174c9c" stroke-width="1" rx="0.7"/>
<line x1="912.5" y1="427" x2="912.5" y2="455" stroke="#174c9c" stroke-width="1.1"/>
<rect x="911.0" y="452" width="3" height="1" fill="#174c9c"/>
<line x1="918.5" y1="458" x2="918.5" y2="496" stroke="#ee4e4c" stroke-width="1.1"/>
<rect x="917.0" y="459" width="3" height="35" fill="#ee4e4c"/>
<line x1="924.5" y1="469" x2="924.5" y2="470.5" stroke="#174c9c" stroke-width="1.1"/>
<line x1="924.5" y1="479.5" x2="924.5" y2="491" stroke="#174c9c" stroke-width="1.1"/>
<rect x="923.5" y="470.5" width="2" height="9" fill="#fff" stroke="#174c9c" stroke-width="1" rx="0.7"/>
<line x1="929.5" y1="461" x2="929.5" y2="476" stroke="#ee4e4c" stroke-width="1.1"/>
<rect x="928.0" y="470" width="3" height="1" fill="#ee4e4c"/>
<line x1="935.5" y1="434" x2="935.5" y2="435.5" stroke="#174c9c" stroke-width="1.1"/>
<line x1="935.5" y1="476.5" x2="935.5" y2="477" stroke="#174c9c" stroke-width="1.1"/>
<rect x="934.5" y="435.5" width="2" height="41" fill="#fff" stroke="#174c9c" stroke-width="1" rx="0.7"/>
<line x1="941.5" y1="416" x2="941.5" y2="419.5" stroke="#174c9c" stroke-width="1.1"/>
<line x1="941.5" y1="435.5" x2="941.5" y2="436" stroke="#174c9c" stroke-width="1.1"/>
<rect x="940.5" y="419.5" width="2" height="16" fill="#fff" stroke="#174c9c" stroke-width="1" rx="0.7"/>
<line x1="947.5" y1="410" x2="947.5" y2="437" stroke="#ee4e4c" stroke-width="1.1"/>
<rect x="946.0" y="419" width="3" height="16" fill="#ee4e4c"/>
<line x1="952.5" y1="420" x2="952.5" y2="424.5" stroke="#174c9c" stroke-width="1.1"/>
<line x1="952.5" y1="434.5" x2="952.5" y2="439" stroke="#174c9c" stroke-width="1.1"/>
<rect x="951.5" y="424.5" width="2" height="10" fill="#fff" stroke="#174c9c" stroke-width="1" rx="0.7"/>
<line x1="958.5" y1="388" x2="958.5" y2="390.5" stroke="#174c9c" stroke-width="1.1"/>
<line x1="958.5" y1="424.5" x2="958.5" y2="435" stroke="#174c9c" stroke-width="1.1"/>
<rect x="957.5" y="390.5" width="2" height="34" fill="#fff" stroke="#174c9c" stroke-width="1" rx="0.7"/>
<line x1="964.5" y1="380" x2="964.5" y2="385.5" stroke="#174c9c" stroke-width="1.1"/>
<line x1="964.5" y1="397.5" x2="964.5" y2="412" stroke="#174c9c" stroke-width="1.1"/>
<rect x="963.5" y="385.5" width="2" height="12" fill="#fff" stroke="#174c9c" stroke-width="1" rx="0.7"/>
<line x1="969.5" y1="372" x2="969.5" y2="393" stroke="#ee4e4c" stroke-width="1.1"/>
<rect x="968.0" y="384" width="3" height="5" fill="#ee4e4c"/>
<line x1="975.5" y1="369" x2="975.5" y2="379.5" stroke="#174c9c" stroke-width="1.1"/>
<line x1="975.5" y1="389.5" x2="975.5" y2="396" stroke="#174c9c" stroke-width="1.1"/>
<rect x="974.5" y="379.5" width="2" height="10" fill="#fff" stroke="#174c9c" stroke-width="1" rx="0.7"/>
<line x1="981.5" y1="369" x2="981.5" y2="375.5" stroke="#174c9c" stroke-width="1.1"/>
<line x1="981.5" y1="377.5" x2="981.5" y2="384" stroke="#174c9c" stroke-width="1.1"/>
<rect x="980.5" y="375.5" width="2" height="2" fill="#fff" stroke="#174c9c" stroke-width="1" rx="0.7"/>
<line x1="987.5" y1="365" x2="987.5" y2="390" stroke="#ee4e4c" stroke-width="1.1"/>
<rect x="986.0" y="367" width="3" height="11" fill="#ee4e4c"/>
<line x1="992.5" y1="369" x2="992.5" y2="369.5" stroke="#174c9c" stroke-width="1.1"/>
<line x1="992.5" y1="375.5" x2="992.5" y2="388" stroke="#174c9c" stroke-width="1.1"/>
<rect x="991.5" y="369.5" width="2" height="6" fill="#fff" stroke="#174c9c" stroke-width="1" rx="0.7"/>
<line x1="998.5" y1="368" x2="998.5" y2="384" stroke="#ee4e4c" stroke-width="1.1"/>
<rect x="997.0" y="372" width="3" height="4" fill="#ee4e4c"/>
<line x1="1004.5" y1="372" x2="1004.5" y2="382.5" stroke="#ee4e4c" stroke-width="1.1"/>
<line x1="1004.5" y1="392.5" x2="1004.5" y2="398" stroke="#ee4e4c" stroke-width="1.1"/>
<rect x="1003.5" y="382.5" width="2" height="10" fill="#fff" stroke="#ee4e4c" stroke-width="1" rx="0.7"/>
<line x1="1010.5" y1="366" x2="1010.5" y2="407" stroke="#ee4e4c" stroke-width="1.1"/>
<rect x="1009.0" y="380" width="3" height="26" fill="#ee4e4c"/>
<line x1="1015.5" y1="403" x2="1015.5" y2="413" stroke="#ee4e4c" stroke-width="1.1"/>
<rect x="1014.0" y="406" width="3" height="7" fill="#ee4e4c"/>
<line x1="1021.5" y1="412" x2="1021.5" y2="427" stroke="#ee4e4c" stroke-width="1.1"/>
<rect x="1020.0" y="414" width="3" height="4" fill="#ee4e4c"/>
<line x1="1027.5" y1="413" x2="1027.5" y2="438" stroke="#ee4e4c" stroke-width="1.1"/>
<rect x="1026.0" y="415" width="3" height="23" fill="#ee4e4c"/>
<line x1="1033.5" y1="427" x2="1033.5" y2="428.5" stroke="#174c9c" stroke-width="1.1"/>
<line x1="1033.5" y1="437.5" x2="1033.5" y2="441" stroke="#174c9c" stroke-width="1.1"/>
<rect x="1032.5" y="428.5" width="2" height="9" fill="#fff" stroke="#174c9c" stroke-width="1" rx="0.7"/>
<line x1="1038.5" y1="429" x2="1038.5" y2="454" stroke="#ee4e4c" stroke-width="1.1"/>
<rect x="1037.0" y="430" width="3" height="13" fill="#ee4e4c"/>
<line x1="1044.5" y1="401" x2="1044.5" y2="404.5" stroke="#174c9c" stroke-width="1.1"/>
<line x1="1044.5" y1="423.5" x2="1044.5" y2="424" stroke="#174c9c" stroke-width="1.1"/>
<rect x="1043.5" y="404.5" width="2" height="19" fill="#fff" stroke="#174c9c" stroke-width="1" rx="0.7"/>
<line x1="1050.5" y1="384" x2="1050.5" y2="392.5" stroke="#174c9c" stroke-width="1.1"/>
<line x1="1050.5" y1="404.5" x2="1050.5" y2="410" stroke="#174c9c" stroke-width="1.1"/>
<rect x="1049.5" y="392.5" width="2" height="12" fill="#fff" stroke="#174c9c" stroke-width="1" rx="0.7"/>
<line x1="1056.5" y1="372" x2="1056.5" y2="373.5" stroke="#174c9c" stroke-width="1.1"/>
<line x1="1056.5" y1="395.5" x2="1056.5" y2="396" stroke="#174c9c" stroke-width="1.1"/>
<rect x="1055.5" y="373.5" width="2" height="22" fill="#fff" stroke="#174c9c" stroke-width="1" rx="0.7"/>
<line x1="1061.5" y1="356" x2="1061.5" y2="360.5" stroke="#174c9c" stroke-width="1.1"/>
<line x1="1061.5" y1="376.5" x2="1061.5" y2="377" stroke="#174c9c" stroke-width="1.1"/>
<rect x="1060.5" y="360.5" width="2" height="16" fill="#fff" stroke="#174c9c" stroke-width="1" rx="0.7"/>
<line x1="1067.5" y1="340" x2="1067.5" y2="351.5" stroke="#174c9c" stroke-width="1.1"/>
<line x1="1067.5" y1="359.5" x2="1067.5" y2="362" stroke="#174c9c" stroke-width="1.1"/>
<rect x="1066.5" y="351.5" width="2" height="8" fill="#fff" stroke="#174c9c" stroke-width="1" rx="0.7"/>
<line x1="1073.5" y1="348" x2="1073.5" y2="360" stroke="#ee4e4c" stroke-width="1.1"/>
<rect x="1072.0" y="351" width="3" height="7" fill="#ee4e4c"/>
<line x1="1078.5" y1="353" x2="1078.5" y2="356.5" stroke="#174c9c" stroke-width="1.1"/>
<line x1="1078.5" y1="358.5" x2="1078.5" y2="366" stroke="#174c9c" stroke-width="1.1"/>
<rect x="1077.5" y="356.5" width="2" height="2" fill="#fff" stroke="#174c9c" stroke-width="1" rx="0.7"/>
<line x1="1084.5" y1="339" x2="1084.5" y2="363" stroke="#174c9c" stroke-width="1.1"/>
<rect x="1083.0" y="343" width="3" height="4" fill="#174c9c"/>
<line x1="1090.5" y1="344" x2="1090.5" y2="377" stroke="#ee4e4c" stroke-width="1.1"/>
<rect x="1089.0" y="347" width="3" height="29" fill="#ee4e4c"/>
<line x1="1096.5" y1="371" x2="1096.5" y2="386" stroke="#ee4e4c" stroke-width="1.1"/>
<rect x="1095.0" y="373" width="3" height="5" fill="#ee4e4c"/>
<line x1="1101.5" y1="377" x2="1101.5" y2="399" stroke="#ee4e4c" stroke-width="1.1"/>
<rect x="1100.0" y="379" width="3" height="9" fill="#ee4e4c"/>
<line x1="1107.5" y1="376" x2="1107.5" y2="382.5" stroke="#174c9c" stroke-width="1.1"/>
<line x1="1107.5" y1="390.5" x2="1107.5" y2="394" stroke="#174c9c" stroke-width="1.1"/>
<rect x="1106.5" y="382.5" width="2" height="8" fill="#fff" stroke="#174c9c" stroke-width="1" rx="0.7"/>
<line x1="1113.5" y1="366" x2="1113.5" y2="370.5" stroke="#174c9c" stroke-width="1.1"/>
<line x1="1113.5" y1="385.5" x2="1113.5" y2="386" stroke="#174c9c" stroke-width="1.1"/>
<rect x="1112.5" y="370.5" width="2" height="15" fill="#fff" stroke="#174c9c" stroke-width="1" rx="0.7"/>
<line x1="1119.5" y1="371" x2="1119.5" y2="372.5" stroke="#ee4e4c" stroke-width="1.1"/>
<line x1="1119.5" y1="374.5" x2="1119.5" y2="383" stroke="#ee4e4c" stroke-width="1.1"/>
<rect x="1118.5" y="372.5" width="2" height="2" fill="#fff" stroke="#ee4e4c" stroke-width="1" rx="0.7"/>
<line x1="1124.5" y1="388" x2="1124.5" y2="406" stroke="#ee4e4c" stroke-width="1.1"/>
<rect x="1123.0" y="388" width="3" height="18" fill="#ee4e4c"/>
<line x1="1130.5" y1="392" x2="1130.5" y2="398.5" stroke="#174c9c" stroke-width="1.1"/>
<line x1="1130.5" y1="400.5" x2="1130.5" y2="408" stroke="#174c9c" stroke-width="1.1"/>
<rect x="1129.5" y="398.5" width="2" height="2" fill="#fff" stroke="#174c9c" stroke-width="1" rx="0.7"/>
<line x1="1136.5" y1="389" x2="1136.5" y2="392.5" stroke="#174c9c" stroke-width="1.1"/>
<line x1="1136.5" y1="395.5" x2="1136.5" y2="403" stroke="#174c9c" stroke-width="1.1"/>
<rect x="1135.5" y="392.5" width="2" height="3" fill="#fff" stroke="#174c9c" stroke-width="1" rx="0.7"/>
<line x1="1142.5" y1="357" x2="1142.5" y2="359.5" stroke="#174c9c" stroke-width="1.1"/>
<line x1="1142.5" y1="395.5" x2="1142.5" y2="396" stroke="#174c9c" stroke-width="1.1"/>
<rect x="1141.5" y="359.5" width="2" height="36" fill="#fff" stroke="#174c9c" stroke-width="1" rx="0.7"/>
<line x1="1147.5" y1="353" x2="1147.5" y2="366" stroke="#ee4e4c" stroke-width="1.1"/>
<rect x="1146.0" y="362" width="3" height="4" fill="#ee4e4c"/>
<line x1="1153.5" y1="357" x2="1153.5" y2="375" stroke="#ee4e4c" stroke-width="1.1"/>
<rect x="1152.0" y="368" width="3" height="3" fill="#ee4e4c"/>
<line x1="1159.5" y1="360" x2="1159.5" y2="383" stroke="#ee4e4c" stroke-width="1.1"/>
<rect x="1158.0" y="366" width="3" height="17" fill="#ee4e4c"/>
<line x1="1165.5" y1="384" x2="1165.5" y2="401" stroke="#ee4e4c" stroke-width="1.1"/>
<rect x="1164.0" y="384" width="3" height="17" fill="#ee4e4c"/>
<line x1="1170.5" y1="394" x2="1170.5" y2="399.5" stroke="#174c9c" stroke-width="1.1"/>
<line x1="1170.5" y1="402.5" x2="1170.5" y2="406" stroke="#174c9c" stroke-width="1.1"/>
<rect x="1169.5" y="399.5" width="2" height="3" fill="#fff" stroke="#174c9c" stroke-width="1" rx="0.7"/>
<line x1="1176.5" y1="369" x2="1176.5" y2="372.5" stroke="#174c9c" stroke-width="1.1"/>
<line x1="1176.5" y1="389.5" x2="1176.5" y2="395" stroke="#174c9c" stroke-width="1.1"/>
<rect x="1175.5" y="372.5" width="2" height="17" fill="#fff" stroke="#174c9c" stroke-width="1" rx="0.7"/>
<line x1="1182.5" y1="357" x2="1182.5" y2="372.5" stroke="#ee4e4c" stroke-width="1.1"/>
<line x1="1182.5" y1="374.5" x2="1182.5" y2="375" stroke="#ee4e4c" stroke-width="1.1"/>
<rect x="1181.5" y="372.5" width="2" height="2" fill="#fff" stroke="#ee4e4c" stroke-width="1" rx="0.7"/>
<line x1="1188.5" y1="378" x2="1188.5" y2="396" stroke="#ee4e4c" stroke-width="1.1"/>
<rect x="1187.0" y="379" width="3" height="17" fill="#ee4e4c"/>
<line x1="1193.5" y1="389" x2="1193.5" y2="408" stroke="#174c9c" stroke-width="1.1"/>
<rect x="1192.0" y="391" width="3" height="3" fill="#174c9c"/>
<line x1="1199.5" y1="381" x2="1199.5" y2="384.5" stroke="#174c9c" stroke-width="1.1"/>
<line x1="1199.5" y1="390.5" x2="1199.5" y2="395" stroke="#174c9c" stroke-width="1.1"/>
<rect x="1198.5" y="384.5" width="2" height="6" fill="#fff" stroke="#174c9c" stroke-width="1" rx="0.7"/>
<line x1="1205.5" y1="385" x2="1205.5" y2="411" stroke="#ee4e4c" stroke-width="1.1"/>
<rect x="1204.0" y="386" width="3" height="25" fill="#ee4e4c"/>
<line x1="1210.5" y1="421" x2="1210.5" y2="440" stroke="#ee4e4c" stroke-width="1.1"/>
<rect x="1209.0" y="423" width="3" height="1" fill="#ee4e4c"/>
<line x1="1216.5" y1="398" x2="1216.5" y2="402.5" stroke="#174c9c" stroke-width="1.1"/>
<line x1="1216.5" y1="420.5" x2="1216.5" y2="421" stroke="#174c9c" stroke-width="1.1"/>
<rect x="1215.5" y="402.5" width="2" height="18" fill="#fff" stroke="#174c9c" stroke-width="1" rx="0.7"/>
<line x1="1222.5" y1="381" x2="1222.5" y2="388.5" stroke="#174c9c" stroke-width="1.1"/>
<line x1="1222.5" y1="402.5" x2="1222.5" y2="403" stroke="#174c9c" stroke-width="1.1"/>
<rect x="1221.5" y="388.5" width="2" height="14" fill="#fff" stroke="#174c9c" stroke-width="1" rx="0.7"/>
<line x1="1228.5" y1="391" x2="1228.5" y2="405" stroke="#ee4e4c" stroke-width="1.1"/>
<rect x="1227.0" y="392" width="3" height="2" fill="#ee4e4c"/>
<line x1="1233.5" y1="384" x2="1233.5" y2="403" stroke="#174c9c" stroke-width="1.1"/>
<rect x="1232.0" y="384" width="3" height="7" fill="#174c9c"/>
<line x1="1239.5" y1="391" x2="1239.5" y2="411" stroke="#ee4e4c" stroke-width="1.1"/>
<rect x="1238.0" y="392" width="3" height="19" fill="#ee4e4c"/>
<line x1="1245.5" y1="375" x2="1245.5" y2="381.5" stroke="#174c9c" stroke-width="1.1"/>
<line x1="1245.5" y1="413.5" x2="1245.5" y2="414" stroke="#174c9c" stroke-width="1.1"/>
<rect x="1244.5" y="381.5" width="2" height="32" fill="#fff" stroke="#174c9c" stroke-width="1" rx="0.7"/>
<line x1="1251.5" y1="370" x2="1251.5" y2="370.5" stroke="#174c9c" stroke-width="1.1"/>
<line x1="1251.5" y1="386.5" x2="1251.5" y2="387" stroke="#174c9c" stroke-width="1.1"/>
<rect x="1250.5" y="370.5" width="2" height="16" fill="#fff" stroke="#174c9c" stroke-width="1" rx="0.7"/>
<line x1="1256.5" y1="349" x2="1256.5" y2="350.5" stroke="#174c9c" stroke-width="1.1"/>
<line x1="1256.5" y1="362.5" x2="1256.5" y2="366" stroke="#174c9c" stroke-width="1.1"/>
<rect x="1255.5" y="350.5" width="2" height="12" fill="#fff" stroke="#174c9c" stroke-width="1" rx="0.7"/>
<line x1="1262.5" y1="358" x2="1262.5" y2="395" stroke="#ee4e4c" stroke-width="1.1"/>
<rect x="1261.0" y="361" width="3" height="34" fill="#ee4e4c"/>
<line x1="1268.5" y1="372" x2="1268.5" y2="379.5" stroke="#174c9c" stroke-width="1.1"/>
<line x1="1268.5" y1="397.5" x2="1268.5" y2="404" stroke="#174c9c" stroke-width="1.1"/>
<rect x="1267.5" y="379.5" width="2" height="18" fill="#fff" stroke="#174c9c" stroke-width="1" rx="0.7"/>
<line x1="1274.5" y1="365" x2="1274.5" y2="373.5" stroke="#174c9c" stroke-width="1.1"/>
<line x1="1274.5" y1="377.5" x2="1274.5" y2="383" stroke="#174c9c" stroke-width="1.1"/>
<rect x="1273.5" y="373.5" width="2" height="4" fill="#fff" stroke="#174c9c" stroke-width="1" rx="0.7"/>
<line x1="1279.5" y1="368" x2="1279.5" y2="384" stroke="#ee4e4c" stroke-width="1.1"/>
<rect x="1278.0" y="372" width="3" height="9" fill="#ee4e4c"/>
<line x1="1285.5" y1="376" x2="1285.5" y2="401" stroke="#ee4e4c" stroke-width="1.1"/>
<rect x="1284.0" y="378" width="3" height="15" fill="#ee4e4c"/>
<line x1="1291.5" y1="385" x2="1291.5" y2="393.5" stroke="#ee4e4c" stroke-width="1.1"/>
<line x1="1291.5" y1="395.5" x2="1291.5" y2="405" stroke="#ee4e4c" stroke-width="1.1"/>
<rect x="1290.5" y="393.5" width="2" height="2" fill="#fff" stroke="#ee4e4c" stroke-width="1" rx="0.7"/>
<line x1="1297.5" y1="393" x2="1297.5" y2="406" stroke="#ee4e4c" stroke-width="1.1"/>
<rect x="1296.0" y="393" width="3" height="11" fill="#ee4e4c"/>
<line x1="1302.5" y1="395" x2="1302.5" y2="399.5" stroke="#174c9c" stroke-width="1.1"/>
<line x1="1302.5" y1="414.5" x2="1302.5" y2="415" stroke="#174c9c" stroke-width="1.1"/>
<rect x="1301.5" y="399.5" width="2" height="15" fill="#fff" stroke="#174c9c" stroke-width="1" rx="0.7"/>
<line x1="1308.5" y1="389" x2="1308.5" y2="407" stroke="#ee4e4c" stroke-width="1.1"/>
<rect x="1307.0" y="395" width="3" height="7" fill="#ee4e4c"/>
<line x1="1314.5" y1="401" x2="1314.5" y2="403.5" stroke="#ee4e4c" stroke-width="1.1"/>
<line x1="1314.5" y1="407.5" x2="1314.5" y2="408" stroke="#ee4e4c" stroke-width="1.1"/>
<rect x="1313.5" y="403.5" width="2" height="4" fill="#fff" stroke="#ee4e4c" stroke-width="1" rx="0.7"/>
<line x1="1319.5" y1="387" x2="1319.5" y2="388.5" stroke="#174c9c" stroke-width="1.1"/>
<line x1="1319.5" y1="403.5" x2="1319.5" y2="414" stroke="#174c9c" stroke-width="1.1"/>
<rect x="1318.5" y="388.5" width="2" height="15" fill="#fff" stroke="#174c9c" stroke-width="1" rx="0.7"/>
<line x1="1325.5" y1="392" x2="1325.5" y2="403" stroke="#ee4e4c" stroke-width="1.1"/>
<rect x="1324.0" y="393" width="3" height="3" fill="#ee4e4c"/>
<line x1="1331.5" y1="390" x2="1331.5" y2="393.5" stroke="#174c9c" stroke-width="1.1"/>
<line x1="1331.5" y1="403.5" x2="1331.5" y2="407" stroke="#174c9c" stroke-width="1.1"/>
<rect x="1330.5" y="393.5" width="2" height="10" fill="#fff" stroke="#174c9c" stroke-width="1" rx="0.7"/>
<line x1="1337.5" y1="368" x2="1337.5" y2="371.5" stroke="#174c9c" stroke-width="1.1"/>
<line x1="1337.5" y1="387.5" x2="1337.5" y2="388" stroke="#174c9c" stroke-width="1.1"/>
<rect x="1336.5" y="371.5" width="2" height="16" fill="#fff" stroke="#174c9c" stroke-width="1" rx="0.7"/>
<line x1="1342.5" y1="351" x2="1342.5" y2="356.5" stroke="#174c9c" stroke-width="1.1"/>
<line x1="1342.5" y1="368.5" x2="1342.5" y2="375" stroke="#174c9c" stroke-width="1.1"/>
<rect x="1341.5" y="356.5" width="2" height="12" fill="#fff" stroke="#174c9c" stroke-width="1" rx="0.7"/>
<line x1="1348.5" y1="348" x2="1348.5" y2="366" stroke="#ee4e4c" stroke-width="1.1"/>
<rect x="1347.0" y="354" width="3" height="12" fill="#ee4e4c"/>
<line x1="1354.5" y1="360" x2="1354.5" y2="361.5" stroke="#174c9c" stroke-width="1.1"/>
<line x1="1354.5" y1="363.5" x2="1354.5" y2="369" stroke="#174c9c" stroke-width="1.1"/>
<rect x="1353.5" y="361.5" width="2" height="2" fill="#fff" stroke="#174c9c" stroke-width="1" rx="0.7"/>
<line x1="1360.5" y1="318" x2="1360.5" y2="319.5" stroke="#174c9c" stroke-width="1.1"/>
<line x1="1360.5" y1="353.5" x2="1360.5" y2="362" stroke="#174c9c" stroke-width="1.1"/>
<rect x="1359.5" y="319.5" width="2" height="34" fill="#fff" stroke="#174c9c" stroke-width="1" rx="0.7"/>
<line x1="1365.5" y1="282" x2="1365.5" y2="310.5" stroke="#174c9c" stroke-width="1.1"/>
<line x1="1365.5" y1="313.5" x2="1365.5" y2="322" stroke="#174c9c" stroke-width="1.1"/>
<rect x="1364.5" y="310.5" width="2" height="3" fill="#fff" stroke="#174c9c" stroke-width="1" rx="0.7"/>
<line x1="1371.5" y1="296" x2="1371.5" y2="310" stroke="#174c9c" stroke-width="1.1"/>
<rect x="1370.0" y="299" width="3" height="1" fill="#174c9c"/>
<line x1="1377.5" y1="316" x2="1377.5" y2="326" stroke="#ee4e4c" stroke-width="1.1"/>
<rect x="1376.0" y="321" width="3" height="2" fill="#ee4e4c"/>
<line x1="1383.5" y1="319" x2="1383.5" y2="340" stroke="#ee4e4c" stroke-width="1.1"/>
<rect x="1382.0" y="322" width="3" height="13" fill="#ee4e4c"/>
<line x1="1388.5" y1="302" x2="1388.5" y2="307.5" stroke="#174c9c" stroke-width="1.1"/>
<line x1="1388.5" y1="320.5" x2="1388.5" y2="323" stroke="#174c9c" stroke-width="1.1"/>
<rect x="1387.5" y="307.5" width="2" height="13" fill="#fff" stroke="#174c9c" stroke-width="1" rx="0.7"/>
<line x1="1394.5" y1="257" x2="1394.5" y2="258.5" stroke="#174c9c" stroke-width="1.1"/>
<line x1="1394.5" y1="304.5" x2="1394.5" y2="309" stroke="#174c9c" stroke-width="1.1"/>
<rect x="1393.5" y="258.5" width="2" height="46" fill="#fff" stroke="#174c9c" stroke-width="1" rx="0.7"/>
<line x1="1400.5" y1="247" x2="1400.5" y2="275" stroke="#ee4e4c" stroke-width="1.1"/>
<rect x="1399.0" y="256" width="3" height="19" fill="#ee4e4c"/>
<line x1="1406.5" y1="248" x2="1406.5" y2="275" stroke="#174c9c" stroke-width="1.1"/>
<rect x="1405.0" y="251" width="3" height="24" fill="#174c9c"/>
<line x1="1411.5" y1="261" x2="1411.5" y2="292" stroke="#ee4e4c" stroke-width="1.1"/>
<rect x="1410.0" y="273" width="3" height="19" fill="#ee4e4c"/>
<line x1="1417.5" y1="280" x2="1417.5" y2="300" stroke="#174c9c" stroke-width="1.1"/>
<rect x="1416.0" y="285" width="3" height="1" fill="#174c9c"/>
<line x1="1423.5" y1="269" x2="1423.5" y2="292" stroke="#ee4e4c" stroke-width="1.1"/>
<rect x="1422.0" y="288" width="3" height="1" fill="#ee4e4c"/>
<line x1="1428.5" y1="284" x2="1428.5" y2="300" stroke="#ee4e4c" stroke-width="1.1"/>
<rect x="1427.0" y="285" width="3" height="8" fill="#ee4e4c"/>
<line x1="1434.5" y1="259" x2="1434.5" y2="263.5" stroke="#174c9c" stroke-width="1.1"/>
<line x1="1434.5" y1="291.5" x2="1434.5" y2="292" stroke="#174c9c" stroke-width="1.1"/>
<rect x="1433.5" y="263.5" width="2" height="28" fill="#fff" stroke="#174c9c" stroke-width="1" rx="0.7"/>
<line x1="1440.5" y1="256" x2="1440.5" y2="274" stroke="#ee4e4c" stroke-width="1.1"/>
<rect x="1439.0" y="265" width="3" height="5" fill="#ee4e4c"/>
<line x1="1446.5" y1="260" x2="1446.5" y2="296" stroke="#ee4e4c" stroke-width="1.1"/>
<rect x="1445.0" y="269" width="3" height="24" fill="#ee4e4c"/>
<line x1="1451.5" y1="288" x2="1451.5" y2="317" stroke="#ee4e4c" stroke-width="1.1"/>
<rect x="1450.0" y="296" width="3" height="16" fill="#ee4e4c"/>
<line x1="1457.5" y1="294" x2="1457.5" y2="302.5" stroke="#174c9c" stroke-width="1.1"/>
<line x1="1457.5" y1="310.5" x2="1457.5" y2="321" stroke="#174c9c" stroke-width="1.1"/>
<rect x="1456.5" y="302.5" width="2" height="8" fill="#fff" stroke="#174c9c" stroke-width="1" rx="0.7"/>
<line x1="1463.5" y1="316" x2="1463.5" y2="320.5" stroke="#ee4e4c" stroke-width="1.1"/>
<line x1="1463.5" y1="325.5" x2="1463.5" y2="333" stroke="#ee4e4c" stroke-width="1.1"/>
<rect x="1462.5" y="320.5" width="2" height="5" fill="#fff" stroke="#ee4e4c" stroke-width="1" rx="0.7"/>
<line x1="1469.5" y1="296" x2="1469.5" y2="296.5" stroke="#174c9c" stroke-width="1.1"/>
<line x1="1469.5" y1="312.5" x2="1469.5" y2="323" stroke="#174c9c" stroke-width="1.1"/>
<rect x="1468.5" y="296.5" width="2" height="16" fill="#fff" stroke="#174c9c" stroke-width="1" rx="0.7"/>
<line x1="1474.5" y1="281" x2="1474.5" y2="284.5" stroke="#174c9c" stroke-width="1.1"/>
<line x1="1474.5" y1="295.5" x2="1474.5" y2="298" stroke="#174c9c" stroke-width="1.1"/>
<rect x="1473.5" y="284.5" width="2" height="11" fill="#fff" stroke="#174c9c" stroke-width="1" rx="0.7"/>
<line x1="1480.5" y1="279" x2="1480.5" y2="300" stroke="#ee4e4c" stroke-width="1.1"/>
<rect x="1479.0" y="280" width="3" height="18" fill="#ee4e4c"/>
<line x1="1486.5" y1="293" x2="1486.5" y2="315" stroke="#ee4e4c" stroke-width="1.1"/>
<rect x="1485.0" y="307" width="3" height="6" fill="#ee4e4c"/>
<line x1="1492.5" y1="267" x2="1492.5" y2="270.5" stroke="#174c9c" stroke-width="1.1"/>
<line x1="1492.5" y1="308.5" x2="1492.5" y2="309" stroke="#174c9c" stroke-width="1.1"/>
<rect x="1491.5" y="270.5" width="2" height="38" fill="#fff" stroke="#174c9c" stroke-width="1" rx="0.7"/>
<line x1="1497.5" y1="261" x2="1497.5" y2="264.5" stroke="#174c9c" stroke-width="1.1"/>
<line x1="1497.5" y1="266.5" x2="1497.5" y2="284" stroke="#174c9c" stroke-width="1.1"/>
<rect x="1496.5" y="264.5" width="2" height="2" fill="#fff" stroke="#174c9c" stroke-width="1" rx="0.7"/>
<line x1="1503.5" y1="248" x2="1503.5" y2="258.5" stroke="#174c9c" stroke-width="1.1"/>
<line x1="1503.5" y1="266.5" x2="1503.5" y2="272" stroke="#174c9c" stroke-width="1.1"/>
<rect x="1502.5" y="258.5" width="2" height="8" fill="#fff" stroke="#174c9c" stroke-width="1" rx="0.7"/>
<line x1="1509.5" y1="239" x2="1509.5" y2="251.5" stroke="#174c9c" stroke-width="1.1"/>
<line x1="1509.5" y1="262.5" x2="1509.5" y2="268" stroke="#174c9c" stroke-width="1.1"/>
<rect x="1508.5" y="251.5" width="2" height="11" fill="#fff" stroke="#174c9c" stroke-width="1" rx="0.7"/>
<line x1="1515.5" y1="255" x2="1515.5" y2="275" stroke="#ee4e4c" stroke-width="1.1"/>
<rect x="1514.0" y="255" width="3" height="4" fill="#ee4e4c"/>
<line x1="1520.5" y1="230" x2="1520.5" y2="232.5" stroke="#174c9c" stroke-width="1.1"/>
<line x1="1520.5" y1="262.5" x2="1520.5" y2="266" stroke="#174c9c" stroke-width="1.1"/>
<rect x="1519.5" y="232.5" width="2" height="30" fill="#fff" stroke="#174c9c" stroke-width="1" rx="0.7"/>
<line x1="1526.5" y1="215" x2="1526.5" y2="236" stroke="#ee4e4c" stroke-width="1.1"/>
<rect x="1525.0" y="224" width="3" height="8" fill="#ee4e4c"/>
<line x1="1532.5" y1="219" x2="1532.5" y2="248" stroke="#ee4e4c" stroke-width="1.1"/>
<rect x="1531.0" y="230" width="3" height="18" fill="#ee4e4c"/>
<line x1="1537.5" y1="240" x2="1537.5" y2="269" stroke="#ee4e4c" stroke-width="1.1"/>
<rect x="1536.0" y="243" width="3" height="21" fill="#ee4e4c"/>
<line x1="1543.5" y1="266" x2="1543.5" y2="276" stroke="#ee4e4c" stroke-width="1.1"/>
<rect x="1542.0" y="271" width="3" height="4" fill="#ee4e4c"/>
<line x1="1549.5" y1="262" x2="1549.5" y2="264.5" stroke="#174c9c" stroke-width="1.1"/>
<line x1="1549.5" y1="268.5" x2="1549.5" y2="272" stroke="#174c9c" stroke-width="1.1"/>
<rect x="1548.5" y="264.5" width="2" height="4" fill="#fff" stroke="#174c9c" stroke-width="1" rx="0.7"/>
<line x1="1555.5" y1="270" x2="1555.5" y2="272.5" stroke="#ee4e4c" stroke-width="1.1"/>
<line x1="1555.5" y1="275.5" x2="1555.5" y2="280" stroke="#ee4e4c" stroke-width="1.1"/>
<rect x="1554.5" y="272.5" width="2" height="3" fill="#fff" stroke="#ee4e4c" stroke-width="1" rx="0.7"/>
<line x1="1560.5" y1="260" x2="1560.5" y2="267.5" stroke="#174c9c" stroke-width="1.1"/>
<line x1="1560.5" y1="273.5" x2="1560.5" y2="276" stroke="#174c9c" stroke-width="1.1"/>
<rect x="1559.5" y="267.5" width="2" height="6" fill="#fff" stroke="#174c9c" stroke-width="1" rx="0.7"/>
<line x1="1566.5" y1="249" x2="1566.5" y2="276" stroke="#ee4e4c" stroke-width="1.1"/>
<rect x="1565.0" y="252" width="3" height="24" fill="#ee4e4c"/>
<line x1="1572.5" y1="272" x2="1572.5" y2="300" stroke="#ee4e4c" stroke-width="1.1"/>
<rect x="1571.0" y="272" width="3" height="17" fill="#ee4e4c"/>
<line x1="1578.5" y1="283" x2="1578.5" y2="290" stroke="#ee4e4c" stroke-width="1.1"/>
<rect x="1577.0" y="287" width="3" height="3" fill="#ee4e4c"/>
<line x1="1583.5" y1="283" x2="1583.5" y2="287.5" stroke="#174c9c" stroke-width="1.1"/>
<line x1="1583.5" y1="293.5" x2="1583.5" y2="299" stroke="#174c9c" stroke-width="1.1"/>
<rect x="1582.5" y="287.5" width="2" height="6" fill="#fff" stroke="#174c9c" stroke-width="1" rx="0.7"/>
<line x1="1589.5" y1="271" x2="1589.5" y2="275.5" stroke="#174c9c" stroke-width="1.1"/>
<line x1="1589.5" y1="283.5" x2="1589.5" y2="284" stroke="#174c9c" stroke-width="1.1"/>
<rect x="1588.5" y="275.5" width="2" height="8" fill="#fff" stroke="#174c9c" stroke-width="1" rx="0.7"/>
<line x1="1595.5" y1="267" x2="1595.5" y2="275.5" stroke="#ee4e4c" stroke-width="1.1"/>
<line x1="1595.5" y1="286.5" x2="1595.5" y2="287" stroke="#ee4e4c" stroke-width="1.1"/>
<rect x="1594.5" y="275.5" width="2" height="11" fill="#fff" stroke="#ee4e4c" stroke-width="1" rx="0.7"/>
<line x1="1601.5" y1="268" x2="1601.5" y2="280" stroke="#174c9c" stroke-width="1.1"/>
<rect x="1600.0" y="271" width="3" height="1" fill="#174c9c"/>
<line x1="1606.5" y1="257" x2="1606.5" y2="262.5" stroke="#174c9c" stroke-width="1.1"/>
<line x1="1606.5" y1="274.5" x2="1606.5" y2="285" stroke="#174c9c" stroke-width="1.1"/>
<rect x="1605.5" y="262.5" width="2" height="12" fill="#fff" stroke="#174c9c" stroke-width="1" rx="0.7"/>
<line x1="1612.5" y1="244" x2="1612.5" y2="255.5" stroke="#174c9c" stroke-width="1.1"/>
<line x1="1612.5" y1="261.5" x2="1612.5" y2="266" stroke="#174c9c" stroke-width="1.1"/>
<rect x="1611.5" y="255.5" width="2" height="6" fill="#fff" stroke="#174c9c" stroke-width="1" rx="0.7"/>
<!-- thick support line -->
<rect x="21" y="275" width="1899" height="4" fill="#000"/>
<!-- arcs -->
<path d="M471.5 415.6 L481.5 422.6 L491.5 429.3 L501.4 435.9 L511.4 442.3 L521.4 448.5 L531.4 454.5 L541.4 460.3 L551.4 465.9 L561.3 471.4 L571.3 476.7 L581.3 481.8 L591.3 486.7 L601.3 491.5 L611.3 496.0 L621.2 500.4 L631.2 504.6 L641.2 508.7 L651.2 512.5 L661.2 516.2 L671.2 519.8 L681.1 523.1 L691.1 526.3 L701.1 529.3 L711.1 532.2 L721.1 534.9 L731.1 537.4 L741.0 539.8 L751.0 542.0 L761.0 544.0 L771.0 545.9 L781.0 547.6 L791.0 549.1 L800.9 550.5 L810.9 551.8 L820.9 552.9 L830.9 553.8 L840.9 554.6 L850.9 555.2 L860.8 555.7 L870.8 556.0 L880.8 556.2 L890.8 556.2 L900.8 556.1 L910.8 555.8 L920.7 555.4 L930.7 554.8 L940.7 554.1 L950.7 553.3 L960.7 552.3 L970.7 551.2 L980.6 549.9 L990.6 548.5 L1000.6 547.0 L1010.6 545.3 L1020.6 543.5 L1030.6 541.6 L1040.5 539.5 L1050.5 537.3 L1060.5 534.9 L1070.5 532.5 L1080.5 529.9 L1090.5 527.1 L1100.4 524.3 L1110.4 521.3 L1120.4 518.2 L1130.4 515.0 L1140.4 511.6 L1150.4 508.2 L1160.3 504.6 L1170.3 500.9 L1180.3 497.0 L1190.3 493.1 L1200.3 489.0 L1210.3 484.8 L1220.2 480.5 L1230.2 476.1 L1240.2 471.6 L1250.2 467.0 L1260.2 462.2 L1270.2 457.4 L1280.1 452.4 L1290.1 447.3 L1300.1 442.2 L1310.1 436.9 L1320.1 431.5 L1330.1 426.0 L1340.0 420.4 L1350.0 414.7 L1360.0 408.9" fill="none" stroke="#4a7bab" stroke-width="2" stroke-linejoin="round"/>
<path d="M1389.5 303.7 L1395.8 307.3 L1402.2 310.7 L1408.5 314.1 L1414.8 317.2 L1421.2 320.3 L1427.5 323.1 L1433.8 325.8 L1440.2 328.4 L1446.5 330.8 L1452.8 333.0 L1459.2 335.0 L1465.5 336.9 L1471.8 338.5 L1478.2 340.0 L1484.5 341.3 L1490.8 342.4 L1497.2 343.2 L1503.5 343.9 L1509.8 344.4 L1516.2 344.6 L1522.5 344.7 L1528.8 344.5 L1535.2 344.0 L1541.5 343.4 L1547.8 342.5 L1554.2 341.4 L1560.5 340.0 L1566.8 338.4 L1573.2 336.5 L1579.5 334.4 L1585.8 332.0 L1592.2 329.3 L1598.5 326.4 L1604.8 323.2 L1611.2 319.7 L1617.5 315.9 L1623.8 311.9 L1630.2 307.5 L1636.5 302.9" fill="none" stroke="#4a7bab" stroke-width="2" stroke-linejoin="round"/>
<!-- arrows -->
<g stroke="#000" stroke-width="1.6">
<line x1="270.5" y1="222" x2="270.5" y2="245"/>
<line x1="413.5" y1="224" x2="413.5" y2="246"/>
<line x1="1400.5" y1="201" x2="1400.5" y2="223"/>
</g>
<g fill="#000">
<path d="M265.5 243 L275.5 243 L270.5 253 Z"/>
<path d="M408.5 244 L418.5 244 L413.5 254 Z"/>
<path d="M1395.5 221.5 L1405.5 221.5 L1400.5 231.5 Z"/>
</g>
<!-- price labels -->
<g fill="#7b7b7b" stroke="#7b7b7b" stroke-width="0.2" font-size="11" text-anchor="end" letter-spacing="0.35">
<text x="1924.8" y="88.0">42.31</text>
<text x="1924.8" y="138.1">37.73</text>
<text x="1924.8" y="188.1">33.64</text>
<text x="1924.8" y="238.2">30.00</text>
<text x="1924.8" y="288.3">26.75</text>
<text x="1924.8" y="338.4">23.85</text>
<text x="1924.8" y="388.4">21.27</text>
<text x="1924.8" y="438.5">18.97</text>
<text x="1924.8" y="488.6">16.91</text>
<text x="1924.8" y="538.6">15.08</text>
<text x="1924.8" y="588.7">13.45</text>
<text x="1924.8" y="638.8">11.99</text>
<text x="1924.8" y="688.8">10.69</text>
<text x="1924.8" y="738.9">9.54</text>
</g>
<!-- last price tag -->
<rect x="1886" y="245" width="43" height="19" rx="2.5" fill="url(#dots)"/>
<text x="1907.5" y="259" fill="#fff" stroke="#fff" stroke-width="0.3" font-size="12" text-anchor="middle" letter-spacing="0.3">29.03</text>
<text x="1880" y="270" fill="#000" font-size="11" font-weight="bold" text-anchor="end" letter-spacing="0.4">27.57</text>
<!-- separator -->
<rect x="21" y="771" width="1899" height="2" fill="#c8c8c8"/>
<!-- RSI band -->
<rect x="21" y="820" width="1592" height="95" fill="#ebeefa"/>
<line x1="21" y1="821.5" x2="1613" y2="821.5" stroke="#c8ccf2" stroke-width="1" stroke-dasharray="1 2"/>
<line x1="21" y1="913.5" x2="1613" y2="913.5" stroke="#c8ccf2" stroke-width="1" stroke-dasharray="1 2"/>
<line x1="21" y1="867.5" x2="1613" y2="867.5" stroke="#b9b9ea" stroke-width="1"/>
<polyline points="21,839.2 23.5,839.2 29.5,828.5 34.5,828.5 40.5,867.3 46.5,863.9 52.5,863.1 57.5,862.4 63.5,874.3 69.5,864.7 74.5,858.6 80.5,845.9 86.5,839.8 92.5,838.4 97.5,841.3 103.5,838.4 109.5,842.5 115.5,854.4 120.5,854.4 126.5,834.2 132.5,883.7 138.5,868.2 143.5,905.1 149.5,922.6 155.5,892.9 161.5,892.9 166.5,880.7 172.5,882.2 178.5,881.4 183.5,884.5 189.5,876.1 195.5,860.9 201.5,854.8 206.5,847.1 212.5,853.7 218.5,853.2 224.5,850.2 229.5,848.2 235.5,846.7 241.5,837.2 247.5,829.6 252.5,803.6 258.5,796.0 264.5,784.6 270.5,807.5 275.5,806.2 281.5,803.2 287.5,811.3 292.5,812.8 298.5,812.8 304.5,857.5 310.5,850.9 315.5,842.2 321.5,851.7 327.5,848.3 333.5,857.5 338.5,844.4 344.5,852.5 350.5,857.0 356.5,869.7 361.5,858.3 367.5,860.1 373.5,847.1 379.5,847.1 384.5,843.3 390.5,854.0 396.5,859.6 401.5,851.7 407.5,843.3 413.5,843.8 419.5,840.7 424.5,841.5 430.5,849.4 436.5,864.4 442.5,857.8 447.5,855.2 453.5,867.7 459.5,868.9 465.5,865.4 470.5,857.8 476.5,857.0 482.5,859.0 488.5,842.2 493.5,842.2 499.5,841.5 505.5,837.2 511.5,840.0 516.5,838.4 522.5,872.3 528.5,868.2 533.5,863.1 539.5,868.5 545.5,875.3 551.5,880.4 556.5,876.1 562.5,889.8 568.5,897.2 574.5,903.6 579.5,886.8 585.5,876.9 591.5,889.8 597.5,901.3 602.5,901.6 608.5,899.0 614.5,896.7 620.5,884.5 625.5,869.2 631.5,875.3 637.5,871.2 642.5,855.8 648.5,866.2 654.5,883.7 660.5,889.1 665.5,893.2 671.5,890.1 677.5,881.9 683.5,876.4 688.5,887.2 694.5,878.1 700.5,861.3 706.5,882.2 711.5,881.0 717.5,867.0 723.5,863.1 729.5,859.0 734.5,845.6 740.5,843.3 746.5,855.2 751.5,850.6 757.5,861.3 763.5,860.1 769.5,850.2 774.5,867.7 780.5,883.4 786.5,887.6 792.5,898.2 797.5,889.5 803.5,885.3 809.5,886.8 815.5,886.8 820.5,889.1 826.5,895.2 832.5,906.6 838.5,911.2 843.5,916.2 849.5,917.3 855.5,888.6 860.5,892.1 866.5,879.6 872.5,895.9 878.5,897.5 883.5,904.3 889.5,892.9 895.5,883.4 901.5,889.1 906.5,887.6 912.5,873.1 918.5,890.1 924.5,878.9 929.5,878.9 935.5,860.9 941.5,854.0 947.5,862.1 952.5,857.0 958.5,841.8 964.5,839.5 969.5,842.2 975.5,838.7 981.5,836.4 987.5,837.7 992.5,833.9 998.5,840.3 1004.5,845.6 1010.5,863.1 1015.5,867.7 1021.5,871.5 1027.5,884.5 1033.5,877.3 1038.5,885.3 1044.5,860.9 1050.5,854.0 1056.5,844.1 1061.5,837.2 1067.5,832.6 1073.5,837.7 1078.5,837.7 1084.5,832.3 1090.5,857.0 1096.5,859.6 1101.5,866.2 1107.5,862.4 1113.5,854.4 1119.5,856.0 1124.5,878.4 1130.5,873.8 1136.5,869.2 1142.5,848.6 1147.5,852.5 1153.5,856.3 1159.5,866.2 1165.5,876.1 1170.5,876.4 1176.5,857.8 1182.5,858.6 1188.5,874.6 1193.5,873.1 1199.5,866.2 1205.5,882.2 1210.5,889.1 1216.5,874.3 1222.5,865.7 1228.5,869.2 1233.5,867.7 1239.5,879.9 1245.5,860.5 1251.5,854.0 1256.5,843.8 1262.5,871.2 1268.5,863.6 1274.5,860.1 1279.5,863.9 1285.5,871.2 1291.5,871.5 1297.5,877.6 1302.5,874.6 1308.5,876.1 1314.5,876.9 1319.5,866.2 1325.5,871.5 1331.5,868.8 1337.5,854.0 1342.5,843.3 1348.5,850.9 1354.5,847.9 1360.5,824.5 1365.5,820.9 1371.5,816.3 1377.5,838.0 1383.5,847.4 1388.5,834.2 1394.5,815.1 1400.5,828.5 1406.5,828.5 1411.5,841.8 1417.5,839.2 1423.5,839.8 1428.5,844.4 1434.5,830.0 1440.5,835.2 1446.5,852.9 1451.5,865.4 1457.5,860.1 1463.5,870.3 1469.5,857.0 1474.5,850.9 1480.5,859.6 1486.5,868.2 1492.5,847.4 1497.5,844.8 1503.5,841.0 1509.5,838.0 1515.5,844.1 1520.5,831.6 1526.5,831.9 1532.5,844.8 1537.5,855.5 1543.5,864.7 1549.5,857.8 1555.5,863.3 1560.5,860.2 1566.5,865.6 1572.5,874.1 1578.5,875.5 1583.5,873.0 1589.5,865.3 1595.5,865.3 1601.5,861.5 1606.5,855.4 1612.5,848.3" fill="none" stroke="#3b3bf5" stroke-width="1.3" stroke-linejoin="round"/>
<g fill="#7b7b7b" stroke="#7b7b7b" stroke-width="0.2" font-size="11" text-anchor="end" letter-spacing="0.35">
<text x="1920" y="803">80.00</text>
<text x="1920" y="849">60.00</text>
<text x="1920" y="896">40.00</text>
</g>
<text x="1920" y="934" fill="#7b7b7b" font-size="10" text-anchor="end">Your local time zone</text>
<!-- x axis -->
<rect x="21" y="937" width="1899" height="1" fill="#8a8a8a"/>
<g stroke="#8a8a8a" stroke-width="1">
<line x1="87.5" y1="937" x2="87.5" y2="946.5"/>
<line x1="187.5" y1="937" x2="187.5" y2="946.5"/>
<line x1="287.5" y1="937" x2="287.5" y2="946.5"/>
<line x1="387.5" y1="937" x2="387.5" y2="946.5"/>
<line x1="486.5" y1="937" x2="486.5" y2="946.5"/>
<line x1="587.5" y1="937" x2="587.5" y2="946.5"/>
<line x1="687.5" y1="937" x2="687.5" y2="946.5"/>
<line x1="785.5" y1="937" x2="785.5" y2="946.5"/>
<line x1="886.5" y1="937" x2="886.5" y2="946.5"/>
<line x1="986.5" y1="937" x2="986.5" y2="946.5"/>
<line x1="1084.5" y1="937" x2="1084.5" y2="946.5"/>
<line x1="1185.5" y1="937" x2="1185.5" y2="946.5"/>
<line x1="1285.5" y1="937" x2="1285.5" y2="946.5"/>
<line x1="1384.5" y1="937" x2="1384.5" y2="946.5"/>
<line x1="1485.5" y1="937" x2="1485.5" y2="946.5"/>
<line x1="1585.5" y1="937" x2="1585.5" y2="946.5"/>
<line x1="1683.5" y1="937" x2="1683.5" y2="946.5"/>
<line x1="1784.5" y1="937" x2="1784.5" y2="946.5"/>
<line x1="1884.5" y1="937" x2="1884.5" y2="946.5"/>
</g>
<g fill="#858a86" stroke="#858a86" stroke-width="0.2" font-size="11" text-anchor="middle" letter-spacing="0.4">
<text x="87.8" y="956">Jan '20</text>
<text x="187.8" y="956">May '20</text>
<text x="287.8" y="956">Sep '20</text>
<text x="387.8" y="956">Jan '21</text>
<text x="486.8" y="956">May '21</text>
<text x="587.8" y="956">Sep '21</text>
<text x="687.8" y="956">Jan '22</text>
<text x="785.8" y="956">May '22</text>
<text x="886.8" y="956">Sep '22</text>
<text x="986.8" y="956">Jan '23</text>
<text x="1084.8" y="956">May '23</text>
<text x="1185.8" y="956">Sep '23</text>
<text x="1285.8" y="956">Jan '24</text>
<text x="1384.8" y="956">May '24</text>
<text x="1485.8" y="956">Sep '24</text>
<text x="1585.8" y="956">Jan '25</text>
<text x="1683.8" y="956">May '25</text>
<text x="1784.8" y="956">Sep '25</text>
<text x="1884.8" y="956">Jan '26</text>
</g>
</svg>
<div class="t" style="left:204px;top:29px;font-size:13px;color:#222;letter-spacing:-0.2px;">Feb 9, 2025 4:28PM EST</div>
<div class="t" style="left:50px;top:24.5px;font-size:23.3px;color:#111;"><b style="letter-spacing:0.9px">Trend</b><span style="font-weight:normal;letter-spacing:1.25px;color:#1a1a1a;-webkit-text-stroke:0.45px #fff;">Spider</span></div>
<div class="t" style="left:23px;top:62px;font-size:12px;color:#333;letter-spacing:0.42px;">SLV, Weekly, Hollow Candles chart (Logarithmic scale)</div>
<div class="t" style="left:20px;top:969.5px;font-size:10px;color:#222;">©2025 TrendSpider</div>
</body></html>
